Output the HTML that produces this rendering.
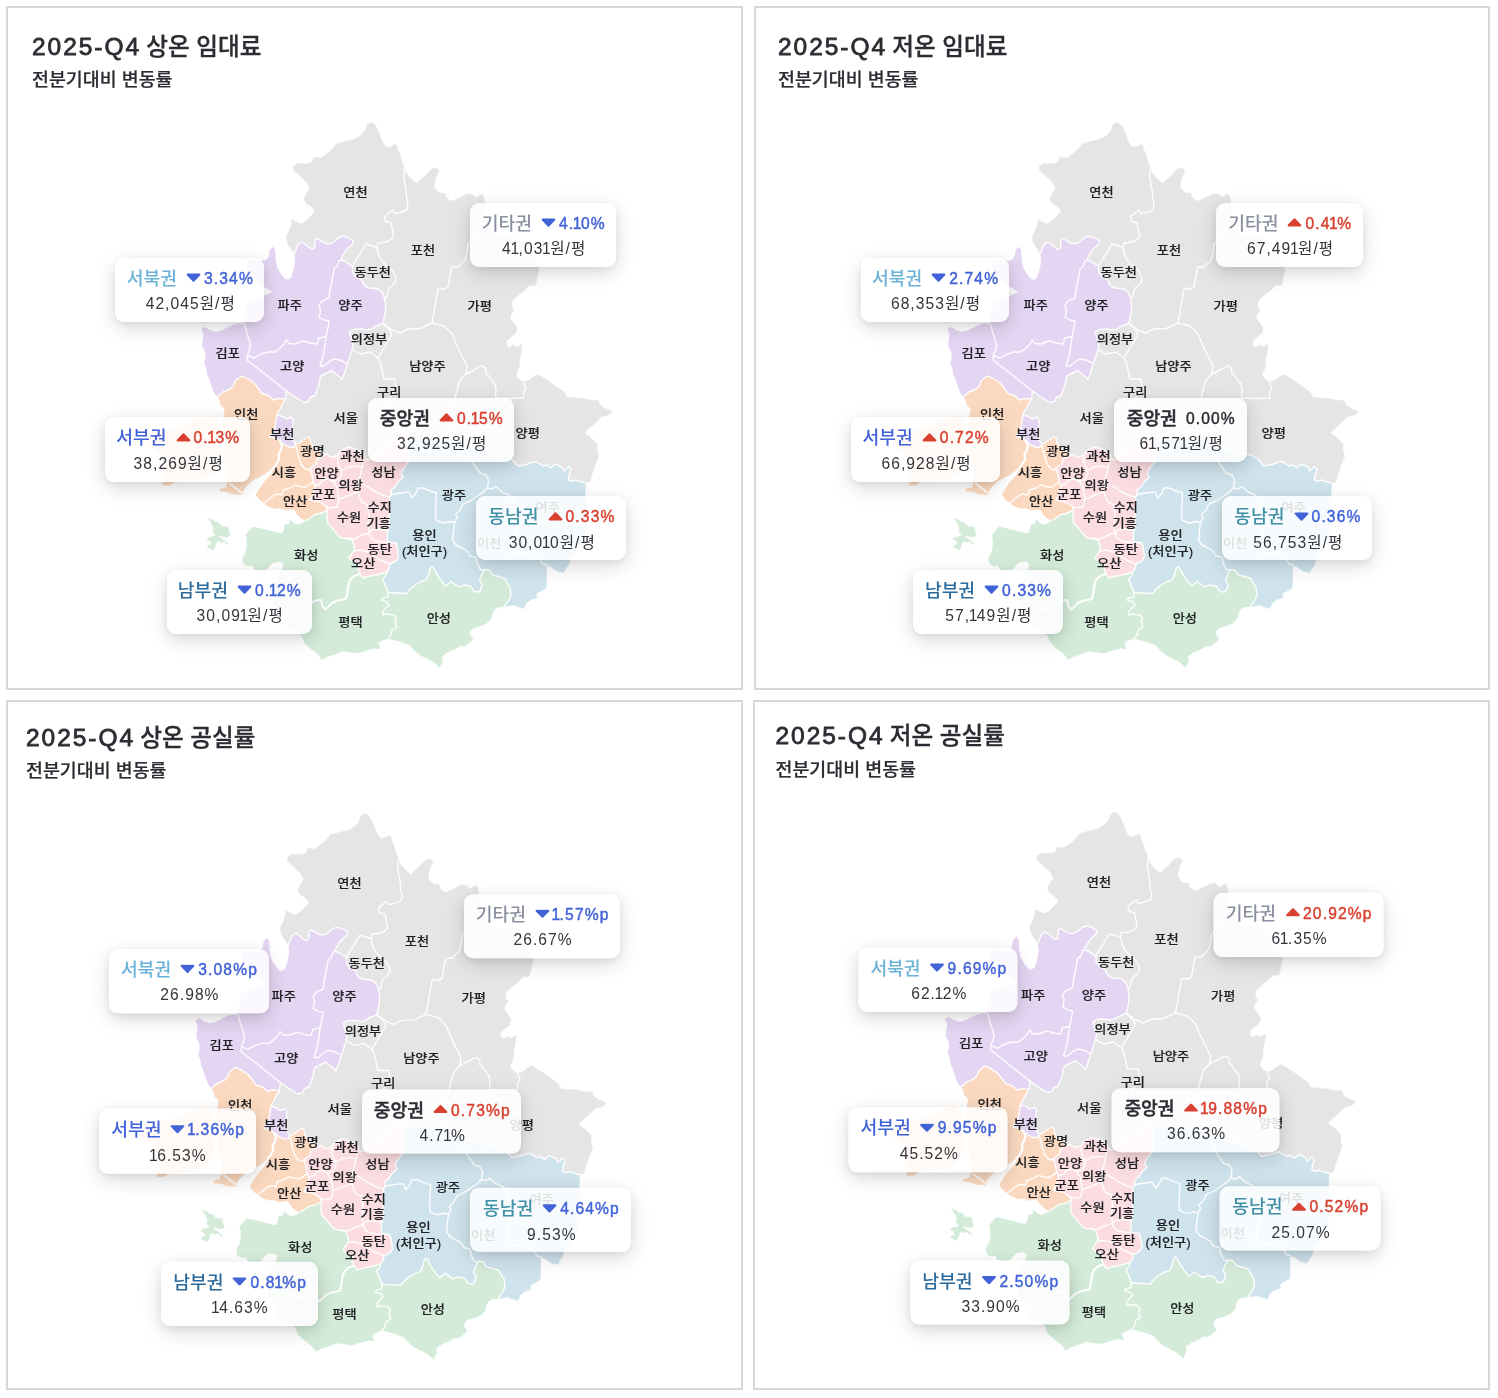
<!DOCTYPE html><html lang="ko"><head><meta charset="utf-8"><title>map</title><style>
html,body{margin:0;padding:0;background:#fff}
body{width:1498px;height:1398px;position:relative;overflow:hidden;font-family:"Liberation Sans","Noto Sans CJK KR",sans-serif;color:#2b2d33}
.frame{position:absolute;box-sizing:border-box;border:2px solid #d8d8d8;background:#fff}
.pc{position:absolute;left:0;top:0;width:0;height:0;transform-origin:0 0}
.title{position:absolute;left:32px;top:32.3px;font-size:23.6px;line-height:30px;font-weight:500;white-space:nowrap;color:#2b2d33;-webkit-text-stroke:.3px #2b2d33}
.title .en{font-size:24.5px;letter-spacing:1.95px;-webkit-text-stroke:.8px #2b2d33;margin-right:-1.2px}
.sub{position:absolute;left:32px;top:66.7px;font-size:18.4px;-webkit-text-stroke:.2px #2b2d33;line-height:26px;font-weight:500;white-space:nowrap;color:#2b2d33}
svg.map{position:absolute;left:0;top:0;overflow:visible}
.ml text{font-size:12.2px;font-weight:500;fill:#1f2024;stroke:#1f2024;stroke-width:.15px;text-anchor:middle;font-family:"Liberation Sans","Noto Sans CJK KR",sans-serif}
.ml text.dim{fill:#1f2024}
.tip{position:absolute;height:64.2px;border-radius:9px;background:rgba(255,255,255,.86);box-shadow:0 6px 20px rgba(0,0,0,.15),0 2px 6px rgba(0,0,0,.06);text-align:center;white-space:nowrap}
.tip .l1{position:absolute;left:1.6px;right:0;top:7.1px;height:28px;display:flex;justify-content:center;align-items:center}
.tip .lab{font-size:18.2px;font-weight:500;line-height:28px}
.tip .tri{margin-left:9px;margin-right:3px;position:relative;top:-1.2px}
.tip .pct{font-size:15.6px;font-weight:400;line-height:28px;letter-spacing:1.15px;-webkit-text-stroke:.45px currentColor}
.tip .l2{position:absolute;left:2.4px;right:0;top:34.4px;height:24px;line-height:24px;font-size:15.6px;color:#33353b;letter-spacing:1.05px}
.one{margin:0 -1.7px 0 -1.5px}.l2 .one{margin:0 -1.6px 0 -1.4px}
.up{color:#d9402f}.dn{color:#4263d8}.no{color:#2b2d33}
</style></head><body>
<div class="frame" style="left:6px;top:6px;width:737px;height:684px"></div>
<div class="pc" style="transform:translate(0px,0px) scale(1,1)">
<div class="title"><span class="en">2025-Q4</span> 상온 임대료</div><div class="sub">전분기대비 변동률</div>
<svg class="map" width="740" height="690" viewBox="0 0 740 690"><polygon points="294.5,253.5 292,250 288,244 286,237.5 288.5,232 291.5,225 292,219.5 296,222 301.5,224 306,221 311,216 315,211.5 313,208 306,203 304,199 306,194 310,188.5 306.5,182 300,176 293.5,170 293.5,166 298,163.5 307,164 312,162 314,157.5 321,158 328,153 334.5,147 336,144 345,141.5 355,139 360,136 365,131 367,125 370.5,122.5 374,124 377,128 379.5,134 382,141 385,146 388.5,147.5 393,145.5 396.5,144.5 397.5,149 400,155 401.5,161 404,166 406,173 411,179 417,183.5 420,180 425,176 429,171.5 432.5,168.5 437,168.5 439,170.5 436.5,176 434.5,182 434,186.5 437,191.5 441.5,193.5 444.5,193 446,197 449.5,200.5 453,201 460,197.5 467,194 472,194 476,197.5 482,194 484,198 484.5,203 485.5,210 489,226 494,234 505,237 515,238 521,242 533,255 538,265 539,270 537,278 535.5,285 529,285.5 524,291 517,296 512,301 511.5,306 514,310 510.5,315 510.5,319 514.5,324 517,328 516,333 511,337 506.5,341.5 507,346 509.5,347.5 513,345 517,347 522,344 521,352 519.5,360 519,368 516.5,373 516.5,376 520,380 523.5,382 529,380.5 533,377 537.5,374.5 542,377 550,382 558,388 564,392 567,397.5 575,398 585,399 592,400.5 598,400.5 600,405 605,408.5 612,411.2 611,413.5 607,415.5 602,416.5 598,420 593,425 588,429 585,432 585.5,434.5 590,437 594,441 597,444 597,450 598.5,457 596,463 593,471 591,477 590,481.5 585.5,483 580,481.5 576,480 572,481 568.5,480 569,475 571,469.5 568.5,466.5 564,471 562,467 555,464 551,468 547,465 543,466 536,461.5 530,463 526,464.5 523,465 518,466 515,463 512,459 505,455 490,452 475,448 460,440 440,437 420,434 409,436 404,431 399,432 398.5,439 392,443 387,447 380,450 375,456 368,460 365,459 364,454 358,450 353,448.5 349,447 344,449 340,451.5 338,455 334,457 330,456.5 326.5,454 324,455 319,452 314,448 311,443 310,438 308,436.5 303,440 299,443 296,444 293,440 292,434 292.5,427 293,420 291,417 286,419 283,416.5 277,415 277.5,413 280,409 283,403 285.5,399 286.5,391 295,397 304,402.5 309,401 310,397.5 315,395.5 317,390 319,385 320,379 321,376 327,373 332,370.5 336,374 340,377 342,379.5 344,374 346,368 348,362 350,356 352,350 353,345 351,338 349.5,332 353,329.5 360,329 367,330 371,329 376,326 382.5,323.5 383.5,321 384.5,316 385.5,310 385.5,305 384.5,298 382.5,293 379,289.5 375,288.5 369,288 365,286 363,283 361,279 356,277 352.5,272 352.5,266.5 349,264 345,261.5 341,260 342,257 345,252 348,248 352,245 353.5,240.5 347,237 343,236.2 339,237.5 335,241 331,243.5 326,243.5 321,241 317,238.5 315,240 314.5,248 312,249.5 308,247 305,244 301.5,242 298.5,244 296.5,248" fill="#e5e5e5" stroke="#e5e5e5" stroke-width="0.6" stroke-linejoin="round"/>
<polygon points="294.5,253.5 295.5,260 295,264 293.3,272 291.3,277.7 288.1,280 285,279.3 281,274.5 277,268 275.3,260 275,250.4 273,247 269.7,250.4 269,256 267.3,259.2 263.3,261.2 256,260.5 249,259.5 247.3,262 247,276 255,281 264,286.5 273,292 264,296 255,299.5 247,302.5 245.7,312 244,323 242,324 238,323.5 232,325.5 227,328 221,331 216,332 210.4,330.5 205,327.3 201.6,329 204,334 203,340 202.5,346 205.5,352 206,358 204.5,363 207,369 207,373 210,380 212.5,388 215,394 218,396.5 223,392 230,389 234,385 235,381 240,377 242.5,376 248,379 254,383 258,388 262,393.5 267,395 270,396.5 273,400 278,398.5 285.5,399 286.5,391 295,397 304,402.5 309,401 310,397.5 315,395.5 317,390 319,385 320,379 321,376 327,373 332,370.5 336,374 340,377 342,379.5 344,374 346,368 348,362 350,356 352,350 353,345 351,338 349.5,332 353,329.5 360,329 367,330 371,329 376,326 382.5,323.5 383.5,321 384.5,316 385.5,310 385.5,305 384.5,298 382.5,293 379,289.5 375,288.5 369,288 365,286 363,283 361,279 356,277 352.5,272 352.5,266.5 349,264 345,261.5 341,260 342,257 345,252 348,248 352,245 353.5,240.5 347,237 343,236.2 339,237.5 335,241 331,243.5 326,243.5 321,241 317,238.5 315,240 314.5,248 312,249.5 308,247 305,244 301.5,242 298.5,244 296.5,248" fill="#e4d5f2" stroke="#e4d5f2" stroke-width="0.6" stroke-linejoin="round"/>
<polygon points="296,444 293,440 292,434 292.5,427 293,420 291,417 286,419 283,416.5 277,415 276,420 275,428 272,432 270,437 276,438 280,441 285,445 290,447.5 294,447" fill="#e4d5f2" stroke="#e4d5f2" stroke-width="0.6" stroke-linejoin="round"/>
<polygon points="218,396.5 220,401 221,405 225,409 224,414 223,425 226,440 224,455 228,470 228,482 226,488 220,489 220,491 228,492 232,494 242,494.5 243,490.5 247,485.5 252,480.5 258,477.5 264,474.5 270,470 273.5,466 274.8,467.5 271.5,474 266.5,479.5 262,485 259,490 256,494.5 259,499 264,503 268,506 275,508.5 280,508 285,510 294,509 297,514 301,518 306,520.5 310,518 316,514 320,513.5 325,511.5 327.5,510 326,506 320,502 315,501 310,500 314,492 315,485.5 313,482 312,475 310,468 316,464 317,459 325,455 326.5,454 324,455 319,452 314,448 311,443 310,438 308,436.5 303,440 299,443 296,444 294,447 290,447.5 285,445 280,441 276,438 270,437 272,432 275,428 276,420 277,415 277.5,413 280,409 283,403 285.5,399 278,398.5 273,400 270,396.5 267,395 262,393.5 258,388 254,383 248,379 242.5,376 240,377 235,381 234,385 230,389 223,392" fill="#fad9c0" stroke="#fad9c0" stroke-width="0.6" stroke-linejoin="round"/>
<polygon points="211,417 196,420 188,426 170,430 150,435 147,445 155,450 163,458 162,470 165,478 163,485 170,485 176,481 190,480 205,478 214,472 219,462 221,450 218,440 220,428 217,420" fill="#fad9c0" stroke="#fad9c0" stroke-width="0.6" stroke-linejoin="round"/>
<polygon points="326.5,454 330,456.5 334,457 338,455 340,451.5 344,449 349,447 353,448.5 358,450 364,454 365,459 368,460 375,456 380,450 387,447 392,443 398.5,439 399,432 404,431 409,436 409,461.5 403,469 401,474 403.5,477 398,482 395,487 391,490 391.5,495 389.5,497 390,506 389,516 389.5,524 388,530 387,536 388,542 396,543 397.5,550 398.5,557 396,561 390,564 389,569 386.5,572 380,574 376,575 370,576 363,578 360,574 358,569 359,565 352,561 349,558 352,553.5 354.5,550 354,545 352,540 347,538.5 341,538 337,534 333,529 327.5,523 327,517 327.5,510 326,506 320,502 315,501 310,500 314,492 315,485.5 313,482 312,475 310,468 316,464 317,459 325,455" fill="#fbdde1" stroke="#fbdde1" stroke-width="0.6" stroke-linejoin="round"/>
<polygon points="409,436 420,434 440,437 460,440 475,448 490,452 505,455 512,459 515,463 518,466 523,465 526,464.5 530,463 536,461.5 543,466 547,465 551,468 555,464 562,467 564,471 568.5,466.5 571,469.5 569,475 568.5,480 572,481 576,480 580,481.5 585.5,483 585,495 586,505 587.5,515 586,525 584.5,535 580,545 575,552 570,559 568.5,565 565.5,569 564,572.5 558,571.5 554,569 550,566 546.5,565.5 546.5,570 546.5,580 546,588 541,591 536,593.5 537,597.5 531,599.5 526,603 524,608.5 519,607 513,605 508,606 504.5,606.5 506,604 509,600 511,595 510,587 507,583 505,578.5 498,576.5 492,574.5 489,570 484.5,569.5 482,574 479.5,580 482,584 481,589 479,592 474,591.5 471,586.5 464,585 459,587 451,581.5 445.5,586 440,579 436,573 433.5,567.5 432,566.5 430,569 429,574 426,580 420,582 415,585 410,589 407,593.5 398,593 388,592.5 386,587 384,582 382.5,579 386,576 386.5,572 389,569 390,564 396,561 398.5,557 397.5,550 396,543 388,542 387,536 388,530 389.5,524 389,516 390,506 389.5,497 391.5,495 391,490 395,487 398,482 403.5,477 401,474 403,469 409,461.5" fill="#cfe3ec" stroke="#cfe3ec" stroke-width="0.6" stroke-linejoin="round"/>
<polygon points="327.5,510 325,511.5 320,513.5 316,514 310,518 306,520.5 303,523 298,525 295,524 290,520 289,524 285,525 283,533 280,533.5 270,531 260,528.5 253,527 249,531 246,535 247,540 247,547 246,552 243.5,556 242.5,559 244,564 248,566 252,565 254,569 260,571 267,569 270,565 273,562.5 280,561.5 283.5,564 283,568 279,573 277,578 275,590 274,605 280,610 283,618 285,625 290,629 300,634 302,636 304,642 310,648 318,654 322,659.5 327,656.5 334,654.5 342,651 350,652 358,653 366,650.5 375,648 380,649 378,643 383,640 388,638.5 395,640 403,642.5 410,645 415,651 420,655 428,659 434,662 436,664 439.5,667.3 442.5,661 442,656 448,652 455,649 460,646 465,646 469,643 473,639 470,635 469.5,632 473,628 480,626 487,623 491.5,618 492,614 494,610 498,607 504.5,606.5 506,604 509,600 511,595 510,587 507,583 505,578.5 498,576.5 492,574.5 489,570 484.5,569.5 482,574 479.5,580 482,584 481,589 479,592 474,591.5 471,586.5 464,585 459,587 451,581.5 445.5,586 440,579 436,573 433.5,567.5 432,566.5 430,569 429,574 426,580 420,582 415,585 410,589 407,593.5 398,593 388,592.5 386,587 384,582 382.5,579 386,576 386.5,572 380,574 376,575 370,576 363,578 360,574 358,569 359,565 352,561 349,558 352,553.5 354.5,550 354,545 352,540 347,538.5 341,538 337,534 333,529 327.5,523 327,517" fill="#d3ebd8" stroke="#d3ebd8" stroke-width="0.6" stroke-linejoin="round"/>
<polygon points="208.1,518.1 210.9,519.5 213.2,520 214.1,521.8 218.4,522.8 220.4,524.8 222.4,526.8 228,526.9 228.8,529.1 228.3,531.1 230.1,534.3 229.3,536.3 226.3,537 223,536.3 220.4,535.5 219.1,536.3 220.4,538 223.7,539.9 226.3,541.9 227.8,544.5 226.3,544.2 224.3,541.3 222.7,541.6 221.4,542.9 219.4,541.3 217.4,541.3 216.1,542.9 215.1,546.2 213.8,548.5 212.5,550.1 210.5,548.5 207.2,547.5 208.2,545.2 210.9,544.9 211.2,542.2 209.5,540.3 207.1,539.6 207.4,538.1 209.9,537.3 214.5,536.3 215.5,535 213.8,533 212.8,531.1 213.7,528.4 212.2,524.8 210.2,520.9" fill="#d3ebd8" stroke="#d3ebd8" stroke-width="0.6" stroke-linejoin="round"/>
<g fill="none" stroke="#fff" stroke-width="1.4" stroke-linejoin="round" stroke-linecap="round" opacity="0.95">
<polyline points="585.5,483 580,481.5 576,480 572,481 568.5,480 569,475 571,469.5 568.5,466.5 564,471 562,467 555,464 551,468 547,465 543,466 536,461.5 530,463 526,464.5 523,465 518,466 515,463 512,459 505,455 490,452 475,448 460,440 440,437 420,434 409,436"/>
<polyline points="409,436 404,431 399,432 398.5,439 392,443 387,447 380,450 375,456 368,460 365,459 364,454 358,450 353,448.5 349,447 344,449 340,451.5 338,455 334,457 330,456.5 326.5,454"/>
<polyline points="326.5,454 324,455 319,452 314,448 311,443 310,438 308,436.5 303,440 299,443 296,444"/>
<polyline points="296,444 293,440 292,434 292.5,427 293,420 291,417 286,419 283,416.5 277,415"/>
<polyline points="296,444 294,447 290,447.5 285,445 280,441 276,438 270,437 272,432 275,428 276,420 277,415"/>
<polyline points="277,415 277.5,413 280,409 283,403 285.5,399"/>
<polyline points="285.5,399 286.5,391 295,397 304,402.5 309,401 310,397.5 315,395.5 317,390 319,385 320,379 321,376 327,373 332,370.5 336,374 340,377 342,379.5 344,374 346,368 348,362 350,356 352,350 353,345 351,338 349.5,332 353,329.5 360,329 367,330 371,329 376,326 382.5,323.5 383.5,321 384.5,316 385.5,310 385.5,305 384.5,298 382.5,293 379,289.5 375,288.5 369,288 365,286 363,283 361,279 356,277 352.5,272 352.5,266.5 349,264 345,261.5 341,260 342,257 345,252 348,248 352,245 353.5,240.5 347,237 343,236.2 339,237.5 335,241 331,243.5 326,243.5 321,241 317,238.5 315,240 314.5,248 312,249.5 308,247 305,244 301.5,242 298.5,244 296.5,248 294.5,253.5"/>
<polyline points="218,396.5 223,392 230,389 234,385 235,381 240,377 242.5,376 248,379 254,383 258,388 262,393.5 267,395 270,396.5 273,400 278,398.5 285.5,399"/>
<polyline points="327.5,510 326,506 320,502 315,501 310,500 314,492 315,485.5 313,482 312,475 310,468 316,464 317,459 325,455 326.5,454"/>
<polyline points="409,436 409,461.5 403,469 401,474 403.5,477 398,482 395,487 391,490 391.5,495 389.5,497 390,506 389,516 389.5,524 388,530 387,536 388,542 396,543 397.5,550 398.5,557 396,561 390,564 389,569 386.5,572"/>
<polyline points="386.5,572 380,574 376,575 370,576 363,578 360,574 358,569 359,565 352,561 349,558 352,553.5 354.5,550 354,545 352,540 347,538.5 341,538 337,534 333,529 327.5,523 327,517 327.5,510"/>
<polyline points="504.5,606.5 506,604 509,600 511,595 510,587 507,583 505,578.5 498,576.5 492,574.5 489,570 484.5,569.5 482,574 479.5,580 482,584 481,589 479,592 474,591.5 471,586.5 464,585 459,587 451,581.5 445.5,586 440,579 436,573 433.5,567.5 432,566.5 430,569 429,574 426,580 420,582 415,585 410,589 407,593.5 398,593 388,592.5"/>
<polyline points="388,592.5 386,587 384,582 382.5,579 386,576 386.5,572"/>
<polyline points="327.5,510 325,511.5 320,513.5 316,514 310,518 306,520.5"/>
<polyline points="404.6,166.5 403.8,178 406,190 407,200 408,205 407,210 400,212.5 394.5,213.5 393,210 389,213 384.5,216.5 385.5,221.5 391,223 392.5,230 393.5,237 389,241 383,242.5 378,243"/>
<polyline points="352.5,266.5 356,260 360,254 364,247 366,244 370,245 377,247.5 378,243"/>
<polyline points="377,247.5 378.5,254 381,260 386,265 392,270 395.5,276 396,281 393,285 389,288 387.5,292 387,297 384.5,298"/>
<polyline points="341,260 339,261 337.5,266 334,269 333,275 331.5,283 330,290 329,298 324,300 321,302 319,306 320.5,310 320,314 319,317 324,320 329,321 328,328 326.5,334 326,336.5"/>
<polyline points="247.5,355.5 254,358 260,354.5 268,352 275,352 280,348 284,344 286,340 289,343.5 295,344 300,342 304,341 310,343 317,344 319,338 326,336.5"/>
<polyline points="326,336.5 325,344 324,352 322,360 320,366 324,366 330,361 334,359 340,360 346,363"/>
<polyline points="244,323 246.5,332 249.7,341.8 250.5,346 249.5,350 247.5,355 247,360 260,370 270,378 280,386 286.5,391"/>
<polyline points="353,350 360,354 370,352 378,358 384,348 392,334 388,328 382.5,323.5"/>
<polyline points="384,324 392,330 400,333 408,329 420,328.5 430,324 432,323"/>
<polyline points="432,323 434,312 436,300 438,289 440,288 444,289.5 448,287 450,275 452,267 458,267 465,260 467,252 468,244 473,239 478,231 480.5,224 483,217 485.5,210"/>
<polyline points="432,323 444,326 452,334 457,346 462,356 467,366 466,374"/>
<polyline points="466,374 474,370 480,366.5 482.5,366 486,369 485.5,373 489,376 492,381 495,384 496,390 495.5,398 510,398.5 523.5,398 523.5,392 526,388 523.5,382"/>
<polyline points="466,374 460,380 457,390 455,398 452,410 450,425 452,437"/>
<polyline points="378,358 380,362 382,370 384,379 395,379 396,388 392,396 386,400"/>
<polyline points="386,400 392,410 400,420 404,431"/>
<polyline points="391,494.5 400,493 409,492 412,498 416,493 418,488 423,488 430,491 436.5,493 436,504 435.5,514 436,520 440,522 444,523 450,521.5 454.5,522.5"/>
<polyline points="454.5,522.5 457,518 455.5,514.5 460,510 463,504 470,501 476,497 482,493 487.5,488 488.5,480 486,475 480,473 476,467 473,463 470,456 466,450 460,440"/>
<polyline points="487.5,488 492,489 496,486.5 502,492 509,495 514,500 515,510 517,525 514,540 512,555 530,553 540,559 543,564 547,565"/>
<polyline points="454.5,522.5 453.5,530 452.5,540 456,545 462,548 467,551 470,556 476,557 477,563 480,569 483,570.5"/>
<polyline points="360,574 354,576 350,580 348.5,585 347.5,592 346,599 338,600.5 332,603 328,607 325,609.5 322.5,606 321,600 316,600.5 312,602.5 305,606 296,610 285,618"/>
<polyline points="388,638.5 391,635 392,630 397,627 395,622 396.5,618 394,615 386,614 383,615 383,611 389,605 387,602 381,600 383,598 387.5,597 388,592.5"/>
<polyline points="338,455 337.5,461 340,468 343,470 348,467 356,466 362,467 364,460"/>
<polyline points="362,467 361,473 359,479 363,484 370,488 374,491 380,494 385,496 389.5,497"/>
<polyline points="340,468 342,473 340,478 338,480 333,481 328,479 323,480 320,484 315,485.5"/>
<polyline points="333,481 337,487 338,494 339,499 337,507 329,508 326,506"/>
<polyline points="339,499 345,497 352,494 358,492 360,498 362,502 368,505 369,515 368,525 369,533"/>
<polyline points="358,492 359,485 359,479"/>
<polyline points="347,538.5 354,539 360,536 365,534 369,533 372,530 377,529 384,530 388,530"/>
<polyline points="369,533 371,538 376,541 382,542 388,542"/>
<polyline points="354,551 360,550 368,552 374,556 380,560 390,564"/>
<polyline points="280,441 282,446 280.5,451 278.5,454 279,459 277,463 274.2,466.8"/>
<polyline points="296,446 297.5,452 299,458 301,464 305,469 310,470"/>
<polyline points="264,503 270,498 276,494 282,495 283.5,490 290,488 295,485 300,486.5 305,487.5 309,485 313,482.5"/>
</g>
<line x1="229" y1="483" x2="242" y2="493" stroke="#fff" stroke-width="1.6"/>
<polyline points="280,441 282,446 280.5,451 278.5,454 279,459 277,463 274.2,466.8" fill="none" stroke="#fff" stroke-width="2.2" stroke-linejoin="round" stroke-linecap="round"/>
<polyline points="360,574 354,576 350,580 348.5,585 347.5,592 346,599 338,600.5 332,603 328,607 325,609.5 322.5,606 321,600 316,600.5 312,602.5 305,606 296,610 285,618" fill="none" stroke="#fff" stroke-width="2" stroke-linejoin="round" opacity=".9"/>
<g class="ml">
<text transform="translate(355.5,197.1) scale(1.083,1)">연천</text>
<text transform="translate(423,254.6) scale(1.083,1)">포천</text>
<text transform="translate(372.75,276.85) scale(1.083,1)">동두천</text>
<text transform="translate(289.75,309.6) scale(1.083,1)">파주</text>
<text transform="translate(350.5,309.6) scale(1.083,1)">양주</text>
<text transform="translate(479.75,311.45) scale(1.083,1)">가평</text>
<text transform="translate(368.95,344.35) scale(1.083,1)">의정부</text>
<text transform="translate(227.75,358.35) scale(1.083,1)">김포</text>
<text transform="translate(292.25,371.1) scale(1.083,1)">고양</text>
<text transform="translate(427.35,371.3) scale(1.083,1)">남양주</text>
<text transform="translate(389.2,396.7) scale(1.083,1)">구리</text>
<text transform="translate(246.25,418.85) scale(1.083,1)">인천</text>
<text transform="translate(345.65,422.75) scale(1.083,1)">서울</text>
<text transform="translate(282.25,438.85) scale(1.083,1)">부천</text>
<text transform="translate(527.65,438.25) scale(1.083,1)">양평</text>
<text transform="translate(312.4,455.85) scale(1.083,1)">광명</text>
<text transform="translate(352.5,460.85) scale(1.083,1)">과천</text>
<text transform="translate(284,477.1) scale(1.083,1)">시흥</text>
<text transform="translate(326.4,477.7) scale(1.083,1)">안양</text>
<text transform="translate(383.5,477.35) scale(1.083,1)">성남</text>
<text transform="translate(350.75,490.35) scale(1.083,1)">의왕</text>
<text transform="translate(323.25,499.2) scale(1.083,1)">군포</text>
<text transform="translate(295.25,506.35) scale(1.083,1)">안산</text>
<text transform="translate(454,499.85) scale(1.083,1)">광주</text>
<text transform="translate(349,522.1) scale(1.083,1)">수원</text>
<text transform="translate(379.75,512.35) scale(1.083,1)">수지</text>
<text transform="translate(378.75,527.6) scale(1.083,1)">기흥</text>
<text transform="translate(547.75,512.35) scale(1.083,1)" class="dim">여주</text>
<text transform="translate(489.25,548) scale(1.083,1)" class="dim">이천</text>
<text transform="translate(424.4,539.85) scale(1.083,1)">용인</text>
<text transform="translate(424.5,556.1) scale(1.083,1)">(처인구)</text>
<text transform="translate(306.25,559.85) scale(1.083,1)">화성</text>
<text transform="translate(379.75,554.2) scale(1.083,1)">동탄</text>
<text transform="translate(363.25,568.2) scale(1.083,1)">오산</text>
<text transform="translate(350.5,626.6) scale(1.083,1)">평택</text>
<text transform="translate(438.85,622.5) scale(1.083,1)">안성</text>
</g></svg>
<div class="tip" style="left:470px;top:203px;width:146px"><div class="l1"><span class="lab" style="color:#8b90a0">기타권</span><svg class="tri" width="15" height="9" viewBox="0 0 15 9"><path d="M1.6 0.6h11.8a1 1 0 0 1 .75 1.65l-5.7 5.9a1.3 1.3 0 0 1-1.9 0l-5.7-5.9A1 1 0 0 1 1.6 .6z" fill="#4263d8"/></svg><span class="pct dn">4.<span class="one">1</span>0%</span></div><div class="l2">4<span class="one">1</span>,03<span class="one">1</span>원/평</div></div>
<div class="tip" style="left:114.8px;top:257.5px;width:149.5px"><div class="l1"><span class="lab" style="color:#6cb2d8">서북권</span><svg class="tri" width="15" height="9" viewBox="0 0 15 9"><path d="M1.6 0.6h11.8a1 1 0 0 1 .75 1.65l-5.7 5.9a1.3 1.3 0 0 1-1.9 0l-5.7-5.9A1 1 0 0 1 1.6 .6z" fill="#4263d8"/></svg><span class="pct dn">3.34%</span></div><div class="l2">42,045원/평</div></div>
<div class="tip" style="left:368px;top:398px;width:146px"><div class="l1"><span class="lab" style="color:#2b2d33;-webkit-text-stroke:.45px #2b2d33">중앙권</span><svg class="tri" width="15" height="9" viewBox="0 0 15 9"><path d="M1.6 8.4h11.8a1 1 0 0 0 .75-1.65l-5.7-5.9a1.3 1.3 0 0 0-1.9 0l-5.7 5.9A1 1 0 0 0 1.6 8.4z" fill="#d9402f"/></svg><span class="pct up">0.<span class="one">1</span>5%</span></div><div class="l2">32,925원/평</div></div>
<div class="tip" style="left:105px;top:417.4px;width:145px"><div class="l1"><span class="lab" style="color:#4263d8">서부권</span><svg class="tri" width="15" height="9" viewBox="0 0 15 9"><path d="M1.6 8.4h11.8a1 1 0 0 0 .75-1.65l-5.7-5.9a1.3 1.3 0 0 0-1.9 0l-5.7 5.9A1 1 0 0 0 1.6 8.4z" fill="#d9402f"/></svg><span class="pct up">0.<span class="one">1</span>3%</span></div><div class="l2">38,269원/평</div></div>
<div class="tip" style="left:476px;top:496.2px;width:150.2px"><div class="l1"><span class="lab" style="color:#3f90a6">동남권</span><svg class="tri" width="15" height="9" viewBox="0 0 15 9"><path d="M1.6 8.4h11.8a1 1 0 0 0 .75-1.65l-5.7-5.9a1.3 1.3 0 0 0-1.9 0l-5.7 5.9A1 1 0 0 0 1.6 8.4z" fill="#d9402f"/></svg><span class="pct up">0.33%</span></div><div class="l2">30,0<span class="one">1</span>0원/평</div></div>
<div class="tip" style="left:166.5px;top:570px;width:145px"><div class="l1"><span class="lab" style="color:#2a6a9c">남부권</span><svg class="tri" width="15" height="9" viewBox="0 0 15 9"><path d="M1.6 0.6h11.8a1 1 0 0 1 .75 1.65l-5.7 5.9a1.3 1.3 0 0 1-1.9 0l-5.7-5.9A1 1 0 0 1 1.6 .6z" fill="#4263d8"/></svg><span class="pct dn">0.<span class="one">1</span>2%</span></div><div class="l2">30,09<span class="one">1</span>원/평</div></div>
</div>
<div class="frame" style="left:754px;top:6px;width:736px;height:684px"></div>
<div class="pc" style="transform:translate(746px,0px) scale(1,1)">
<div class="title"><span class="en">2025-Q4</span> 저온 임대료</div><div class="sub">전분기대비 변동률</div>
<svg class="map" width="740" height="690" viewBox="0 0 740 690"><polygon points="294.5,253.5 292,250 288,244 286,237.5 288.5,232 291.5,225 292,219.5 296,222 301.5,224 306,221 311,216 315,211.5 313,208 306,203 304,199 306,194 310,188.5 306.5,182 300,176 293.5,170 293.5,166 298,163.5 307,164 312,162 314,157.5 321,158 328,153 334.5,147 336,144 345,141.5 355,139 360,136 365,131 367,125 370.5,122.5 374,124 377,128 379.5,134 382,141 385,146 388.5,147.5 393,145.5 396.5,144.5 397.5,149 400,155 401.5,161 404,166 406,173 411,179 417,183.5 420,180 425,176 429,171.5 432.5,168.5 437,168.5 439,170.5 436.5,176 434.5,182 434,186.5 437,191.5 441.5,193.5 444.5,193 446,197 449.5,200.5 453,201 460,197.5 467,194 472,194 476,197.5 482,194 484,198 484.5,203 485.5,210 489,226 494,234 505,237 515,238 521,242 533,255 538,265 539,270 537,278 535.5,285 529,285.5 524,291 517,296 512,301 511.5,306 514,310 510.5,315 510.5,319 514.5,324 517,328 516,333 511,337 506.5,341.5 507,346 509.5,347.5 513,345 517,347 522,344 521,352 519.5,360 519,368 516.5,373 516.5,376 520,380 523.5,382 529,380.5 533,377 537.5,374.5 542,377 550,382 558,388 564,392 567,397.5 575,398 585,399 592,400.5 598,400.5 600,405 605,408.5 612,411.2 611,413.5 607,415.5 602,416.5 598,420 593,425 588,429 585,432 585.5,434.5 590,437 594,441 597,444 597,450 598.5,457 596,463 593,471 591,477 590,481.5 585.5,483 580,481.5 576,480 572,481 568.5,480 569,475 571,469.5 568.5,466.5 564,471 562,467 555,464 551,468 547,465 543,466 536,461.5 530,463 526,464.5 523,465 518,466 515,463 512,459 505,455 490,452 475,448 460,440 440,437 420,434 409,436 404,431 399,432 398.5,439 392,443 387,447 380,450 375,456 368,460 365,459 364,454 358,450 353,448.5 349,447 344,449 340,451.5 338,455 334,457 330,456.5 326.5,454 324,455 319,452 314,448 311,443 310,438 308,436.5 303,440 299,443 296,444 293,440 292,434 292.5,427 293,420 291,417 286,419 283,416.5 277,415 277.5,413 280,409 283,403 285.5,399 286.5,391 295,397 304,402.5 309,401 310,397.5 315,395.5 317,390 319,385 320,379 321,376 327,373 332,370.5 336,374 340,377 342,379.5 344,374 346,368 348,362 350,356 352,350 353,345 351,338 349.5,332 353,329.5 360,329 367,330 371,329 376,326 382.5,323.5 383.5,321 384.5,316 385.5,310 385.5,305 384.5,298 382.5,293 379,289.5 375,288.5 369,288 365,286 363,283 361,279 356,277 352.5,272 352.5,266.5 349,264 345,261.5 341,260 342,257 345,252 348,248 352,245 353.5,240.5 347,237 343,236.2 339,237.5 335,241 331,243.5 326,243.5 321,241 317,238.5 315,240 314.5,248 312,249.5 308,247 305,244 301.5,242 298.5,244 296.5,248" fill="#e5e5e5" stroke="#e5e5e5" stroke-width="0.6" stroke-linejoin="round"/>
<polygon points="294.5,253.5 295.5,260 295,264 293.3,272 291.3,277.7 288.1,280 285,279.3 281,274.5 277,268 275.3,260 275,250.4 273,247 269.7,250.4 269,256 267.3,259.2 263.3,261.2 256,260.5 249,259.5 247.3,262 247,276 255,281 264,286.5 273,292 264,296 255,299.5 247,302.5 245.7,312 244,323 242,324 238,323.5 232,325.5 227,328 221,331 216,332 210.4,330.5 205,327.3 201.6,329 204,334 203,340 202.5,346 205.5,352 206,358 204.5,363 207,369 207,373 210,380 212.5,388 215,394 218,396.5 223,392 230,389 234,385 235,381 240,377 242.5,376 248,379 254,383 258,388 262,393.5 267,395 270,396.5 273,400 278,398.5 285.5,399 286.5,391 295,397 304,402.5 309,401 310,397.5 315,395.5 317,390 319,385 320,379 321,376 327,373 332,370.5 336,374 340,377 342,379.5 344,374 346,368 348,362 350,356 352,350 353,345 351,338 349.5,332 353,329.5 360,329 367,330 371,329 376,326 382.5,323.5 383.5,321 384.5,316 385.5,310 385.5,305 384.5,298 382.5,293 379,289.5 375,288.5 369,288 365,286 363,283 361,279 356,277 352.5,272 352.5,266.5 349,264 345,261.5 341,260 342,257 345,252 348,248 352,245 353.5,240.5 347,237 343,236.2 339,237.5 335,241 331,243.5 326,243.5 321,241 317,238.5 315,240 314.5,248 312,249.5 308,247 305,244 301.5,242 298.5,244 296.5,248" fill="#e4d5f2" stroke="#e4d5f2" stroke-width="0.6" stroke-linejoin="round"/>
<polygon points="296,444 293,440 292,434 292.5,427 293,420 291,417 286,419 283,416.5 277,415 276,420 275,428 272,432 270,437 276,438 280,441 285,445 290,447.5 294,447" fill="#e4d5f2" stroke="#e4d5f2" stroke-width="0.6" stroke-linejoin="round"/>
<polygon points="218,396.5 220,401 221,405 225,409 224,414 223,425 226,440 224,455 228,470 228,482 226,488 220,489 220,491 228,492 232,494 242,494.5 243,490.5 247,485.5 252,480.5 258,477.5 264,474.5 270,470 273.5,466 274.8,467.5 271.5,474 266.5,479.5 262,485 259,490 256,494.5 259,499 264,503 268,506 275,508.5 280,508 285,510 294,509 297,514 301,518 306,520.5 310,518 316,514 320,513.5 325,511.5 327.5,510 326,506 320,502 315,501 310,500 314,492 315,485.5 313,482 312,475 310,468 316,464 317,459 325,455 326.5,454 324,455 319,452 314,448 311,443 310,438 308,436.5 303,440 299,443 296,444 294,447 290,447.5 285,445 280,441 276,438 270,437 272,432 275,428 276,420 277,415 277.5,413 280,409 283,403 285.5,399 278,398.5 273,400 270,396.5 267,395 262,393.5 258,388 254,383 248,379 242.5,376 240,377 235,381 234,385 230,389 223,392" fill="#fad9c0" stroke="#fad9c0" stroke-width="0.6" stroke-linejoin="round"/>
<polygon points="211,417 196,420 188,426 170,430 150,435 147,445 155,450 163,458 162,470 165,478 163,485 170,485 176,481 190,480 205,478 214,472 219,462 221,450 218,440 220,428 217,420" fill="#fad9c0" stroke="#fad9c0" stroke-width="0.6" stroke-linejoin="round"/>
<polygon points="326.5,454 330,456.5 334,457 338,455 340,451.5 344,449 349,447 353,448.5 358,450 364,454 365,459 368,460 375,456 380,450 387,447 392,443 398.5,439 399,432 404,431 409,436 409,461.5 403,469 401,474 403.5,477 398,482 395,487 391,490 391.5,495 389.5,497 390,506 389,516 389.5,524 388,530 387,536 388,542 396,543 397.5,550 398.5,557 396,561 390,564 389,569 386.5,572 380,574 376,575 370,576 363,578 360,574 358,569 359,565 352,561 349,558 352,553.5 354.5,550 354,545 352,540 347,538.5 341,538 337,534 333,529 327.5,523 327,517 327.5,510 326,506 320,502 315,501 310,500 314,492 315,485.5 313,482 312,475 310,468 316,464 317,459 325,455" fill="#fbdde1" stroke="#fbdde1" stroke-width="0.6" stroke-linejoin="round"/>
<polygon points="409,436 420,434 440,437 460,440 475,448 490,452 505,455 512,459 515,463 518,466 523,465 526,464.5 530,463 536,461.5 543,466 547,465 551,468 555,464 562,467 564,471 568.5,466.5 571,469.5 569,475 568.5,480 572,481 576,480 580,481.5 585.5,483 585,495 586,505 587.5,515 586,525 584.5,535 580,545 575,552 570,559 568.5,565 565.5,569 564,572.5 558,571.5 554,569 550,566 546.5,565.5 546.5,570 546.5,580 546,588 541,591 536,593.5 537,597.5 531,599.5 526,603 524,608.5 519,607 513,605 508,606 504.5,606.5 506,604 509,600 511,595 510,587 507,583 505,578.5 498,576.5 492,574.5 489,570 484.5,569.5 482,574 479.5,580 482,584 481,589 479,592 474,591.5 471,586.5 464,585 459,587 451,581.5 445.5,586 440,579 436,573 433.5,567.5 432,566.5 430,569 429,574 426,580 420,582 415,585 410,589 407,593.5 398,593 388,592.5 386,587 384,582 382.5,579 386,576 386.5,572 389,569 390,564 396,561 398.5,557 397.5,550 396,543 388,542 387,536 388,530 389.5,524 389,516 390,506 389.5,497 391.5,495 391,490 395,487 398,482 403.5,477 401,474 403,469 409,461.5" fill="#cfe3ec" stroke="#cfe3ec" stroke-width="0.6" stroke-linejoin="round"/>
<polygon points="327.5,510 325,511.5 320,513.5 316,514 310,518 306,520.5 303,523 298,525 295,524 290,520 289,524 285,525 283,533 280,533.5 270,531 260,528.5 253,527 249,531 246,535 247,540 247,547 246,552 243.5,556 242.5,559 244,564 248,566 252,565 254,569 260,571 267,569 270,565 273,562.5 280,561.5 283.5,564 283,568 279,573 277,578 275,590 274,605 280,610 283,618 285,625 290,629 300,634 302,636 304,642 310,648 318,654 322,659.5 327,656.5 334,654.5 342,651 350,652 358,653 366,650.5 375,648 380,649 378,643 383,640 388,638.5 395,640 403,642.5 410,645 415,651 420,655 428,659 434,662 436,664 439.5,667.3 442.5,661 442,656 448,652 455,649 460,646 465,646 469,643 473,639 470,635 469.5,632 473,628 480,626 487,623 491.5,618 492,614 494,610 498,607 504.5,606.5 506,604 509,600 511,595 510,587 507,583 505,578.5 498,576.5 492,574.5 489,570 484.5,569.5 482,574 479.5,580 482,584 481,589 479,592 474,591.5 471,586.5 464,585 459,587 451,581.5 445.5,586 440,579 436,573 433.5,567.5 432,566.5 430,569 429,574 426,580 420,582 415,585 410,589 407,593.5 398,593 388,592.5 386,587 384,582 382.5,579 386,576 386.5,572 380,574 376,575 370,576 363,578 360,574 358,569 359,565 352,561 349,558 352,553.5 354.5,550 354,545 352,540 347,538.5 341,538 337,534 333,529 327.5,523 327,517" fill="#d3ebd8" stroke="#d3ebd8" stroke-width="0.6" stroke-linejoin="round"/>
<polygon points="208.1,518.1 210.9,519.5 213.2,520 214.1,521.8 218.4,522.8 220.4,524.8 222.4,526.8 228,526.9 228.8,529.1 228.3,531.1 230.1,534.3 229.3,536.3 226.3,537 223,536.3 220.4,535.5 219.1,536.3 220.4,538 223.7,539.9 226.3,541.9 227.8,544.5 226.3,544.2 224.3,541.3 222.7,541.6 221.4,542.9 219.4,541.3 217.4,541.3 216.1,542.9 215.1,546.2 213.8,548.5 212.5,550.1 210.5,548.5 207.2,547.5 208.2,545.2 210.9,544.9 211.2,542.2 209.5,540.3 207.1,539.6 207.4,538.1 209.9,537.3 214.5,536.3 215.5,535 213.8,533 212.8,531.1 213.7,528.4 212.2,524.8 210.2,520.9" fill="#d3ebd8" stroke="#d3ebd8" stroke-width="0.6" stroke-linejoin="round"/>
<g fill="none" stroke="#fff" stroke-width="1.4" stroke-linejoin="round" stroke-linecap="round" opacity="0.95">
<polyline points="585.5,483 580,481.5 576,480 572,481 568.5,480 569,475 571,469.5 568.5,466.5 564,471 562,467 555,464 551,468 547,465 543,466 536,461.5 530,463 526,464.5 523,465 518,466 515,463 512,459 505,455 490,452 475,448 460,440 440,437 420,434 409,436"/>
<polyline points="409,436 404,431 399,432 398.5,439 392,443 387,447 380,450 375,456 368,460 365,459 364,454 358,450 353,448.5 349,447 344,449 340,451.5 338,455 334,457 330,456.5 326.5,454"/>
<polyline points="326.5,454 324,455 319,452 314,448 311,443 310,438 308,436.5 303,440 299,443 296,444"/>
<polyline points="296,444 293,440 292,434 292.5,427 293,420 291,417 286,419 283,416.5 277,415"/>
<polyline points="296,444 294,447 290,447.5 285,445 280,441 276,438 270,437 272,432 275,428 276,420 277,415"/>
<polyline points="277,415 277.5,413 280,409 283,403 285.5,399"/>
<polyline points="285.5,399 286.5,391 295,397 304,402.5 309,401 310,397.5 315,395.5 317,390 319,385 320,379 321,376 327,373 332,370.5 336,374 340,377 342,379.5 344,374 346,368 348,362 350,356 352,350 353,345 351,338 349.5,332 353,329.5 360,329 367,330 371,329 376,326 382.5,323.5 383.5,321 384.5,316 385.5,310 385.5,305 384.5,298 382.5,293 379,289.5 375,288.5 369,288 365,286 363,283 361,279 356,277 352.5,272 352.5,266.5 349,264 345,261.5 341,260 342,257 345,252 348,248 352,245 353.5,240.5 347,237 343,236.2 339,237.5 335,241 331,243.5 326,243.5 321,241 317,238.5 315,240 314.5,248 312,249.5 308,247 305,244 301.5,242 298.5,244 296.5,248 294.5,253.5"/>
<polyline points="218,396.5 223,392 230,389 234,385 235,381 240,377 242.5,376 248,379 254,383 258,388 262,393.5 267,395 270,396.5 273,400 278,398.5 285.5,399"/>
<polyline points="327.5,510 326,506 320,502 315,501 310,500 314,492 315,485.5 313,482 312,475 310,468 316,464 317,459 325,455 326.5,454"/>
<polyline points="409,436 409,461.5 403,469 401,474 403.5,477 398,482 395,487 391,490 391.5,495 389.5,497 390,506 389,516 389.5,524 388,530 387,536 388,542 396,543 397.5,550 398.5,557 396,561 390,564 389,569 386.5,572"/>
<polyline points="386.5,572 380,574 376,575 370,576 363,578 360,574 358,569 359,565 352,561 349,558 352,553.5 354.5,550 354,545 352,540 347,538.5 341,538 337,534 333,529 327.5,523 327,517 327.5,510"/>
<polyline points="504.5,606.5 506,604 509,600 511,595 510,587 507,583 505,578.5 498,576.5 492,574.5 489,570 484.5,569.5 482,574 479.5,580 482,584 481,589 479,592 474,591.5 471,586.5 464,585 459,587 451,581.5 445.5,586 440,579 436,573 433.5,567.5 432,566.5 430,569 429,574 426,580 420,582 415,585 410,589 407,593.5 398,593 388,592.5"/>
<polyline points="388,592.5 386,587 384,582 382.5,579 386,576 386.5,572"/>
<polyline points="327.5,510 325,511.5 320,513.5 316,514 310,518 306,520.5"/>
<polyline points="404.6,166.5 403.8,178 406,190 407,200 408,205 407,210 400,212.5 394.5,213.5 393,210 389,213 384.5,216.5 385.5,221.5 391,223 392.5,230 393.5,237 389,241 383,242.5 378,243"/>
<polyline points="352.5,266.5 356,260 360,254 364,247 366,244 370,245 377,247.5 378,243"/>
<polyline points="377,247.5 378.5,254 381,260 386,265 392,270 395.5,276 396,281 393,285 389,288 387.5,292 387,297 384.5,298"/>
<polyline points="341,260 339,261 337.5,266 334,269 333,275 331.5,283 330,290 329,298 324,300 321,302 319,306 320.5,310 320,314 319,317 324,320 329,321 328,328 326.5,334 326,336.5"/>
<polyline points="247.5,355.5 254,358 260,354.5 268,352 275,352 280,348 284,344 286,340 289,343.5 295,344 300,342 304,341 310,343 317,344 319,338 326,336.5"/>
<polyline points="326,336.5 325,344 324,352 322,360 320,366 324,366 330,361 334,359 340,360 346,363"/>
<polyline points="244,323 246.5,332 249.7,341.8 250.5,346 249.5,350 247.5,355 247,360 260,370 270,378 280,386 286.5,391"/>
<polyline points="353,350 360,354 370,352 378,358 384,348 392,334 388,328 382.5,323.5"/>
<polyline points="384,324 392,330 400,333 408,329 420,328.5 430,324 432,323"/>
<polyline points="432,323 434,312 436,300 438,289 440,288 444,289.5 448,287 450,275 452,267 458,267 465,260 467,252 468,244 473,239 478,231 480.5,224 483,217 485.5,210"/>
<polyline points="432,323 444,326 452,334 457,346 462,356 467,366 466,374"/>
<polyline points="466,374 474,370 480,366.5 482.5,366 486,369 485.5,373 489,376 492,381 495,384 496,390 495.5,398 510,398.5 523.5,398 523.5,392 526,388 523.5,382"/>
<polyline points="466,374 460,380 457,390 455,398 452,410 450,425 452,437"/>
<polyline points="378,358 380,362 382,370 384,379 395,379 396,388 392,396 386,400"/>
<polyline points="386,400 392,410 400,420 404,431"/>
<polyline points="391,494.5 400,493 409,492 412,498 416,493 418,488 423,488 430,491 436.5,493 436,504 435.5,514 436,520 440,522 444,523 450,521.5 454.5,522.5"/>
<polyline points="454.5,522.5 457,518 455.5,514.5 460,510 463,504 470,501 476,497 482,493 487.5,488 488.5,480 486,475 480,473 476,467 473,463 470,456 466,450 460,440"/>
<polyline points="487.5,488 492,489 496,486.5 502,492 509,495 514,500 515,510 517,525 514,540 512,555 530,553 540,559 543,564 547,565"/>
<polyline points="454.5,522.5 453.5,530 452.5,540 456,545 462,548 467,551 470,556 476,557 477,563 480,569 483,570.5"/>
<polyline points="360,574 354,576 350,580 348.5,585 347.5,592 346,599 338,600.5 332,603 328,607 325,609.5 322.5,606 321,600 316,600.5 312,602.5 305,606 296,610 285,618"/>
<polyline points="388,638.5 391,635 392,630 397,627 395,622 396.5,618 394,615 386,614 383,615 383,611 389,605 387,602 381,600 383,598 387.5,597 388,592.5"/>
<polyline points="338,455 337.5,461 340,468 343,470 348,467 356,466 362,467 364,460"/>
<polyline points="362,467 361,473 359,479 363,484 370,488 374,491 380,494 385,496 389.5,497"/>
<polyline points="340,468 342,473 340,478 338,480 333,481 328,479 323,480 320,484 315,485.5"/>
<polyline points="333,481 337,487 338,494 339,499 337,507 329,508 326,506"/>
<polyline points="339,499 345,497 352,494 358,492 360,498 362,502 368,505 369,515 368,525 369,533"/>
<polyline points="358,492 359,485 359,479"/>
<polyline points="347,538.5 354,539 360,536 365,534 369,533 372,530 377,529 384,530 388,530"/>
<polyline points="369,533 371,538 376,541 382,542 388,542"/>
<polyline points="354,551 360,550 368,552 374,556 380,560 390,564"/>
<polyline points="280,441 282,446 280.5,451 278.5,454 279,459 277,463 274.2,466.8"/>
<polyline points="296,446 297.5,452 299,458 301,464 305,469 310,470"/>
<polyline points="264,503 270,498 276,494 282,495 283.5,490 290,488 295,485 300,486.5 305,487.5 309,485 313,482.5"/>
</g>
<line x1="229" y1="483" x2="242" y2="493" stroke="#fff" stroke-width="1.6"/>
<polyline points="280,441 282,446 280.5,451 278.5,454 279,459 277,463 274.2,466.8" fill="none" stroke="#fff" stroke-width="2.2" stroke-linejoin="round" stroke-linecap="round"/>
<polyline points="360,574 354,576 350,580 348.5,585 347.5,592 346,599 338,600.5 332,603 328,607 325,609.5 322.5,606 321,600 316,600.5 312,602.5 305,606 296,610 285,618" fill="none" stroke="#fff" stroke-width="2" stroke-linejoin="round" opacity=".9"/>
<g class="ml">
<text transform="translate(355.5,197.1) scale(1.083,1)">연천</text>
<text transform="translate(423,254.6) scale(1.083,1)">포천</text>
<text transform="translate(372.75,276.85) scale(1.083,1)">동두천</text>
<text transform="translate(289.75,309.6) scale(1.083,1)">파주</text>
<text transform="translate(350.5,309.6) scale(1.083,1)">양주</text>
<text transform="translate(479.75,311.45) scale(1.083,1)">가평</text>
<text transform="translate(368.95,344.35) scale(1.083,1)">의정부</text>
<text transform="translate(227.75,358.35) scale(1.083,1)">김포</text>
<text transform="translate(292.25,371.1) scale(1.083,1)">고양</text>
<text transform="translate(427.35,371.3) scale(1.083,1)">남양주</text>
<text transform="translate(389.2,396.7) scale(1.083,1)">구리</text>
<text transform="translate(246.25,418.85) scale(1.083,1)">인천</text>
<text transform="translate(345.65,422.75) scale(1.083,1)">서울</text>
<text transform="translate(282.25,438.85) scale(1.083,1)">부천</text>
<text transform="translate(527.65,438.25) scale(1.083,1)">양평</text>
<text transform="translate(312.4,455.85) scale(1.083,1)">광명</text>
<text transform="translate(352.5,460.85) scale(1.083,1)">과천</text>
<text transform="translate(284,477.1) scale(1.083,1)">시흥</text>
<text transform="translate(326.4,477.7) scale(1.083,1)">안양</text>
<text transform="translate(383.5,477.35) scale(1.083,1)">성남</text>
<text transform="translate(350.75,490.35) scale(1.083,1)">의왕</text>
<text transform="translate(323.25,499.2) scale(1.083,1)">군포</text>
<text transform="translate(295.25,506.35) scale(1.083,1)">안산</text>
<text transform="translate(454,499.85) scale(1.083,1)">광주</text>
<text transform="translate(349,522.1) scale(1.083,1)">수원</text>
<text transform="translate(379.75,512.35) scale(1.083,1)">수지</text>
<text transform="translate(378.75,527.6) scale(1.083,1)">기흥</text>
<text transform="translate(547.75,512.35) scale(1.083,1)" class="dim">여주</text>
<text transform="translate(489.25,548) scale(1.083,1)" class="dim">이천</text>
<text transform="translate(424.4,539.85) scale(1.083,1)">용인</text>
<text transform="translate(424.5,556.1) scale(1.083,1)">(처인구)</text>
<text transform="translate(306.25,559.85) scale(1.083,1)">화성</text>
<text transform="translate(379.75,554.2) scale(1.083,1)">동탄</text>
<text transform="translate(363.25,568.2) scale(1.083,1)">오산</text>
<text transform="translate(350.5,626.6) scale(1.083,1)">평택</text>
<text transform="translate(438.85,622.5) scale(1.083,1)">안성</text>
</g></svg>
<div class="tip" style="left:470px;top:203px;width:146.8px"><div class="l1"><span class="lab" style="color:#8b90a0">기타권</span><svg class="tri" width="15" height="9" viewBox="0 0 15 9"><path d="M1.6 8.4h11.8a1 1 0 0 0 .75-1.65l-5.7-5.9a1.3 1.3 0 0 0-1.9 0l-5.7 5.9A1 1 0 0 0 1.6 8.4z" fill="#d9402f"/></svg><span class="pct up">0.4<span class="one">1</span>%</span></div><div class="l2">67,49<span class="one">1</span>원/평</div></div>
<div class="tip" style="left:114.8px;top:257.5px;width:148px"><div class="l1"><span class="lab" style="color:#6cb2d8">서북권</span><svg class="tri" width="15" height="9" viewBox="0 0 15 9"><path d="M1.6 0.6h11.8a1 1 0 0 1 .75 1.65l-5.7 5.9a1.3 1.3 0 0 1-1.9 0l-5.7-5.9A1 1 0 0 1 1.6 .6z" fill="#4263d8"/></svg><span class="pct dn">2.74%</span></div><div class="l2">68,353원/평</div></div>
<div class="tip" style="left:368px;top:398px;width:133px"><div class="l1"><span class="lab" style="color:#2b2d33;-webkit-text-stroke:.45px #2b2d33">중앙권</span><span style="display:inline-block;width:9px"></span><span class="pct no">0.00%</span></div><div class="l2">6<span class="one">1</span>,57<span class="one">1</span>원/평</div></div>
<div class="tip" style="left:105px;top:417.4px;width:148.8px"><div class="l1"><span class="lab" style="color:#4263d8">서부권</span><svg class="tri" width="15" height="9" viewBox="0 0 15 9"><path d="M1.6 8.4h11.8a1 1 0 0 0 .75-1.65l-5.7-5.9a1.3 1.3 0 0 0-1.9 0l-5.7 5.9A1 1 0 0 0 1.6 8.4z" fill="#d9402f"/></svg><span class="pct up">0.72%</span></div><div class="l2">66,928원/평</div></div>
<div class="tip" style="left:476px;top:496.2px;width:150.3px"><div class="l1"><span class="lab" style="color:#3f90a6">동남권</span><svg class="tri" width="15" height="9" viewBox="0 0 15 9"><path d="M1.6 0.6h11.8a1 1 0 0 1 .75 1.65l-5.7 5.9a1.3 1.3 0 0 1-1.9 0l-5.7-5.9A1 1 0 0 1 1.6 .6z" fill="#4263d8"/></svg><span class="pct dn">0.36%</span></div><div class="l2">56,753원/평</div></div>
<div class="tip" style="left:166.5px;top:570px;width:150.4px"><div class="l1"><span class="lab" style="color:#2a6a9c">남부권</span><svg class="tri" width="15" height="9" viewBox="0 0 15 9"><path d="M1.6 0.6h11.8a1 1 0 0 1 .75 1.65l-5.7 5.9a1.3 1.3 0 0 1-1.9 0l-5.7-5.9A1 1 0 0 1 1.6 .6z" fill="#4263d8"/></svg><span class="pct dn">0.33%</span></div><div class="l2">57,<span class="one">1</span>49원/평</div></div>
</div>
<div class="frame" style="left:6px;top:700px;width:737px;height:690px"></div>
<div class="pc" style="transform:translate(-6px,690.77px) scale(1,1.00184)">
<div class="title"><span class="en">2025-Q4</span> 상온 공실률</div><div class="sub">전분기대비 변동률</div>
<svg class="map" width="740" height="690" viewBox="0 0 740 690"><polygon points="294.5,253.5 292,250 288,244 286,237.5 288.5,232 291.5,225 292,219.5 296,222 301.5,224 306,221 311,216 315,211.5 313,208 306,203 304,199 306,194 310,188.5 306.5,182 300,176 293.5,170 293.5,166 298,163.5 307,164 312,162 314,157.5 321,158 328,153 334.5,147 336,144 345,141.5 355,139 360,136 365,131 367,125 370.5,122.5 374,124 377,128 379.5,134 382,141 385,146 388.5,147.5 393,145.5 396.5,144.5 397.5,149 400,155 401.5,161 404,166 406,173 411,179 417,183.5 420,180 425,176 429,171.5 432.5,168.5 437,168.5 439,170.5 436.5,176 434.5,182 434,186.5 437,191.5 441.5,193.5 444.5,193 446,197 449.5,200.5 453,201 460,197.5 467,194 472,194 476,197.5 482,194 484,198 484.5,203 485.5,210 489,226 494,234 505,237 515,238 521,242 533,255 538,265 539,270 537,278 535.5,285 529,285.5 524,291 517,296 512,301 511.5,306 514,310 510.5,315 510.5,319 514.5,324 517,328 516,333 511,337 506.5,341.5 507,346 509.5,347.5 513,345 517,347 522,344 521,352 519.5,360 519,368 516.5,373 516.5,376 520,380 523.5,382 529,380.5 533,377 537.5,374.5 542,377 550,382 558,388 564,392 567,397.5 575,398 585,399 592,400.5 598,400.5 600,405 605,408.5 612,411.2 611,413.5 607,415.5 602,416.5 598,420 593,425 588,429 585,432 585.5,434.5 590,437 594,441 597,444 597,450 598.5,457 596,463 593,471 591,477 590,481.5 585.5,483 580,481.5 576,480 572,481 568.5,480 569,475 571,469.5 568.5,466.5 564,471 562,467 555,464 551,468 547,465 543,466 536,461.5 530,463 526,464.5 523,465 518,466 515,463 512,459 505,455 490,452 475,448 460,440 440,437 420,434 409,436 404,431 399,432 398.5,439 392,443 387,447 380,450 375,456 368,460 365,459 364,454 358,450 353,448.5 349,447 344,449 340,451.5 338,455 334,457 330,456.5 326.5,454 324,455 319,452 314,448 311,443 310,438 308,436.5 303,440 299,443 296,444 293,440 292,434 292.5,427 293,420 291,417 286,419 283,416.5 277,415 277.5,413 280,409 283,403 285.5,399 286.5,391 295,397 304,402.5 309,401 310,397.5 315,395.5 317,390 319,385 320,379 321,376 327,373 332,370.5 336,374 340,377 342,379.5 344,374 346,368 348,362 350,356 352,350 353,345 351,338 349.5,332 353,329.5 360,329 367,330 371,329 376,326 382.5,323.5 383.5,321 384.5,316 385.5,310 385.5,305 384.5,298 382.5,293 379,289.5 375,288.5 369,288 365,286 363,283 361,279 356,277 352.5,272 352.5,266.5 349,264 345,261.5 341,260 342,257 345,252 348,248 352,245 353.5,240.5 347,237 343,236.2 339,237.5 335,241 331,243.5 326,243.5 321,241 317,238.5 315,240 314.5,248 312,249.5 308,247 305,244 301.5,242 298.5,244 296.5,248" fill="#e5e5e5" stroke="#e5e5e5" stroke-width="0.6" stroke-linejoin="round"/>
<polygon points="294.5,253.5 295.5,260 295,264 293.3,272 291.3,277.7 288.1,280 285,279.3 281,274.5 277,268 275.3,260 275,250.4 273,247 269.7,250.4 269,256 267.3,259.2 263.3,261.2 256,260.5 249,259.5 247.3,262 247,276 255,281 264,286.5 273,292 264,296 255,299.5 247,302.5 245.7,312 244,323 242,324 238,323.5 232,325.5 227,328 221,331 216,332 210.4,330.5 205,327.3 201.6,329 204,334 203,340 202.5,346 205.5,352 206,358 204.5,363 207,369 207,373 210,380 212.5,388 215,394 218,396.5 223,392 230,389 234,385 235,381 240,377 242.5,376 248,379 254,383 258,388 262,393.5 267,395 270,396.5 273,400 278,398.5 285.5,399 286.5,391 295,397 304,402.5 309,401 310,397.5 315,395.5 317,390 319,385 320,379 321,376 327,373 332,370.5 336,374 340,377 342,379.5 344,374 346,368 348,362 350,356 352,350 353,345 351,338 349.5,332 353,329.5 360,329 367,330 371,329 376,326 382.5,323.5 383.5,321 384.5,316 385.5,310 385.5,305 384.5,298 382.5,293 379,289.5 375,288.5 369,288 365,286 363,283 361,279 356,277 352.5,272 352.5,266.5 349,264 345,261.5 341,260 342,257 345,252 348,248 352,245 353.5,240.5 347,237 343,236.2 339,237.5 335,241 331,243.5 326,243.5 321,241 317,238.5 315,240 314.5,248 312,249.5 308,247 305,244 301.5,242 298.5,244 296.5,248" fill="#e4d5f2" stroke="#e4d5f2" stroke-width="0.6" stroke-linejoin="round"/>
<polygon points="296,444 293,440 292,434 292.5,427 293,420 291,417 286,419 283,416.5 277,415 276,420 275,428 272,432 270,437 276,438 280,441 285,445 290,447.5 294,447" fill="#e4d5f2" stroke="#e4d5f2" stroke-width="0.6" stroke-linejoin="round"/>
<polygon points="218,396.5 220,401 221,405 225,409 224,414 223,425 226,440 224,455 228,470 228,482 226,488 220,489 220,491 228,492 232,494 242,494.5 243,490.5 247,485.5 252,480.5 258,477.5 264,474.5 270,470 273.5,466 274.8,467.5 271.5,474 266.5,479.5 262,485 259,490 256,494.5 259,499 264,503 268,506 275,508.5 280,508 285,510 294,509 297,514 301,518 306,520.5 310,518 316,514 320,513.5 325,511.5 327.5,510 326,506 320,502 315,501 310,500 314,492 315,485.5 313,482 312,475 310,468 316,464 317,459 325,455 326.5,454 324,455 319,452 314,448 311,443 310,438 308,436.5 303,440 299,443 296,444 294,447 290,447.5 285,445 280,441 276,438 270,437 272,432 275,428 276,420 277,415 277.5,413 280,409 283,403 285.5,399 278,398.5 273,400 270,396.5 267,395 262,393.5 258,388 254,383 248,379 242.5,376 240,377 235,381 234,385 230,389 223,392" fill="#fad9c0" stroke="#fad9c0" stroke-width="0.6" stroke-linejoin="round"/>
<polygon points="211,417 196,420 188,426 170,430 150,435 147,445 155,450 163,458 162,470 165,478 163,485 170,485 176,481 190,480 205,478 214,472 219,462 221,450 218,440 220,428 217,420" fill="#fad9c0" stroke="#fad9c0" stroke-width="0.6" stroke-linejoin="round"/>
<polygon points="326.5,454 330,456.5 334,457 338,455 340,451.5 344,449 349,447 353,448.5 358,450 364,454 365,459 368,460 375,456 380,450 387,447 392,443 398.5,439 399,432 404,431 409,436 409,461.5 403,469 401,474 403.5,477 398,482 395,487 391,490 391.5,495 389.5,497 390,506 389,516 389.5,524 388,530 387,536 388,542 396,543 397.5,550 398.5,557 396,561 390,564 389,569 386.5,572 380,574 376,575 370,576 363,578 360,574 358,569 359,565 352,561 349,558 352,553.5 354.5,550 354,545 352,540 347,538.5 341,538 337,534 333,529 327.5,523 327,517 327.5,510 326,506 320,502 315,501 310,500 314,492 315,485.5 313,482 312,475 310,468 316,464 317,459 325,455" fill="#fbdde1" stroke="#fbdde1" stroke-width="0.6" stroke-linejoin="round"/>
<polygon points="409,436 420,434 440,437 460,440 475,448 490,452 505,455 512,459 515,463 518,466 523,465 526,464.5 530,463 536,461.5 543,466 547,465 551,468 555,464 562,467 564,471 568.5,466.5 571,469.5 569,475 568.5,480 572,481 576,480 580,481.5 585.5,483 585,495 586,505 587.5,515 586,525 584.5,535 580,545 575,552 570,559 568.5,565 565.5,569 564,572.5 558,571.5 554,569 550,566 546.5,565.5 546.5,570 546.5,580 546,588 541,591 536,593.5 537,597.5 531,599.5 526,603 524,608.5 519,607 513,605 508,606 504.5,606.5 506,604 509,600 511,595 510,587 507,583 505,578.5 498,576.5 492,574.5 489,570 484.5,569.5 482,574 479.5,580 482,584 481,589 479,592 474,591.5 471,586.5 464,585 459,587 451,581.5 445.5,586 440,579 436,573 433.5,567.5 432,566.5 430,569 429,574 426,580 420,582 415,585 410,589 407,593.5 398,593 388,592.5 386,587 384,582 382.5,579 386,576 386.5,572 389,569 390,564 396,561 398.5,557 397.5,550 396,543 388,542 387,536 388,530 389.5,524 389,516 390,506 389.5,497 391.5,495 391,490 395,487 398,482 403.5,477 401,474 403,469 409,461.5" fill="#cfe3ec" stroke="#cfe3ec" stroke-width="0.6" stroke-linejoin="round"/>
<polygon points="327.5,510 325,511.5 320,513.5 316,514 310,518 306,520.5 303,523 298,525 295,524 290,520 289,524 285,525 283,533 280,533.5 270,531 260,528.5 253,527 249,531 246,535 247,540 247,547 246,552 243.5,556 242.5,559 244,564 248,566 252,565 254,569 260,571 267,569 270,565 273,562.5 280,561.5 283.5,564 283,568 279,573 277,578 275,590 274,605 280,610 283,618 285,625 290,629 300,634 302,636 304,642 310,648 318,654 322,659.5 327,656.5 334,654.5 342,651 350,652 358,653 366,650.5 375,648 380,649 378,643 383,640 388,638.5 395,640 403,642.5 410,645 415,651 420,655 428,659 434,662 436,664 439.5,667.3 442.5,661 442,656 448,652 455,649 460,646 465,646 469,643 473,639 470,635 469.5,632 473,628 480,626 487,623 491.5,618 492,614 494,610 498,607 504.5,606.5 506,604 509,600 511,595 510,587 507,583 505,578.5 498,576.5 492,574.5 489,570 484.5,569.5 482,574 479.5,580 482,584 481,589 479,592 474,591.5 471,586.5 464,585 459,587 451,581.5 445.5,586 440,579 436,573 433.5,567.5 432,566.5 430,569 429,574 426,580 420,582 415,585 410,589 407,593.5 398,593 388,592.5 386,587 384,582 382.5,579 386,576 386.5,572 380,574 376,575 370,576 363,578 360,574 358,569 359,565 352,561 349,558 352,553.5 354.5,550 354,545 352,540 347,538.5 341,538 337,534 333,529 327.5,523 327,517" fill="#d3ebd8" stroke="#d3ebd8" stroke-width="0.6" stroke-linejoin="round"/>
<polygon points="208.1,518.1 210.9,519.5 213.2,520 214.1,521.8 218.4,522.8 220.4,524.8 222.4,526.8 228,526.9 228.8,529.1 228.3,531.1 230.1,534.3 229.3,536.3 226.3,537 223,536.3 220.4,535.5 219.1,536.3 220.4,538 223.7,539.9 226.3,541.9 227.8,544.5 226.3,544.2 224.3,541.3 222.7,541.6 221.4,542.9 219.4,541.3 217.4,541.3 216.1,542.9 215.1,546.2 213.8,548.5 212.5,550.1 210.5,548.5 207.2,547.5 208.2,545.2 210.9,544.9 211.2,542.2 209.5,540.3 207.1,539.6 207.4,538.1 209.9,537.3 214.5,536.3 215.5,535 213.8,533 212.8,531.1 213.7,528.4 212.2,524.8 210.2,520.9" fill="#d3ebd8" stroke="#d3ebd8" stroke-width="0.6" stroke-linejoin="round"/>
<g fill="none" stroke="#fff" stroke-width="1.4" stroke-linejoin="round" stroke-linecap="round" opacity="0.95">
<polyline points="585.5,483 580,481.5 576,480 572,481 568.5,480 569,475 571,469.5 568.5,466.5 564,471 562,467 555,464 551,468 547,465 543,466 536,461.5 530,463 526,464.5 523,465 518,466 515,463 512,459 505,455 490,452 475,448 460,440 440,437 420,434 409,436"/>
<polyline points="409,436 404,431 399,432 398.5,439 392,443 387,447 380,450 375,456 368,460 365,459 364,454 358,450 353,448.5 349,447 344,449 340,451.5 338,455 334,457 330,456.5 326.5,454"/>
<polyline points="326.5,454 324,455 319,452 314,448 311,443 310,438 308,436.5 303,440 299,443 296,444"/>
<polyline points="296,444 293,440 292,434 292.5,427 293,420 291,417 286,419 283,416.5 277,415"/>
<polyline points="296,444 294,447 290,447.5 285,445 280,441 276,438 270,437 272,432 275,428 276,420 277,415"/>
<polyline points="277,415 277.5,413 280,409 283,403 285.5,399"/>
<polyline points="285.5,399 286.5,391 295,397 304,402.5 309,401 310,397.5 315,395.5 317,390 319,385 320,379 321,376 327,373 332,370.5 336,374 340,377 342,379.5 344,374 346,368 348,362 350,356 352,350 353,345 351,338 349.5,332 353,329.5 360,329 367,330 371,329 376,326 382.5,323.5 383.5,321 384.5,316 385.5,310 385.5,305 384.5,298 382.5,293 379,289.5 375,288.5 369,288 365,286 363,283 361,279 356,277 352.5,272 352.5,266.5 349,264 345,261.5 341,260 342,257 345,252 348,248 352,245 353.5,240.5 347,237 343,236.2 339,237.5 335,241 331,243.5 326,243.5 321,241 317,238.5 315,240 314.5,248 312,249.5 308,247 305,244 301.5,242 298.5,244 296.5,248 294.5,253.5"/>
<polyline points="218,396.5 223,392 230,389 234,385 235,381 240,377 242.5,376 248,379 254,383 258,388 262,393.5 267,395 270,396.5 273,400 278,398.5 285.5,399"/>
<polyline points="327.5,510 326,506 320,502 315,501 310,500 314,492 315,485.5 313,482 312,475 310,468 316,464 317,459 325,455 326.5,454"/>
<polyline points="409,436 409,461.5 403,469 401,474 403.5,477 398,482 395,487 391,490 391.5,495 389.5,497 390,506 389,516 389.5,524 388,530 387,536 388,542 396,543 397.5,550 398.5,557 396,561 390,564 389,569 386.5,572"/>
<polyline points="386.5,572 380,574 376,575 370,576 363,578 360,574 358,569 359,565 352,561 349,558 352,553.5 354.5,550 354,545 352,540 347,538.5 341,538 337,534 333,529 327.5,523 327,517 327.5,510"/>
<polyline points="504.5,606.5 506,604 509,600 511,595 510,587 507,583 505,578.5 498,576.5 492,574.5 489,570 484.5,569.5 482,574 479.5,580 482,584 481,589 479,592 474,591.5 471,586.5 464,585 459,587 451,581.5 445.5,586 440,579 436,573 433.5,567.5 432,566.5 430,569 429,574 426,580 420,582 415,585 410,589 407,593.5 398,593 388,592.5"/>
<polyline points="388,592.5 386,587 384,582 382.5,579 386,576 386.5,572"/>
<polyline points="327.5,510 325,511.5 320,513.5 316,514 310,518 306,520.5"/>
<polyline points="404.6,166.5 403.8,178 406,190 407,200 408,205 407,210 400,212.5 394.5,213.5 393,210 389,213 384.5,216.5 385.5,221.5 391,223 392.5,230 393.5,237 389,241 383,242.5 378,243"/>
<polyline points="352.5,266.5 356,260 360,254 364,247 366,244 370,245 377,247.5 378,243"/>
<polyline points="377,247.5 378.5,254 381,260 386,265 392,270 395.5,276 396,281 393,285 389,288 387.5,292 387,297 384.5,298"/>
<polyline points="341,260 339,261 337.5,266 334,269 333,275 331.5,283 330,290 329,298 324,300 321,302 319,306 320.5,310 320,314 319,317 324,320 329,321 328,328 326.5,334 326,336.5"/>
<polyline points="247.5,355.5 254,358 260,354.5 268,352 275,352 280,348 284,344 286,340 289,343.5 295,344 300,342 304,341 310,343 317,344 319,338 326,336.5"/>
<polyline points="326,336.5 325,344 324,352 322,360 320,366 324,366 330,361 334,359 340,360 346,363"/>
<polyline points="244,323 246.5,332 249.7,341.8 250.5,346 249.5,350 247.5,355 247,360 260,370 270,378 280,386 286.5,391"/>
<polyline points="353,350 360,354 370,352 378,358 384,348 392,334 388,328 382.5,323.5"/>
<polyline points="384,324 392,330 400,333 408,329 420,328.5 430,324 432,323"/>
<polyline points="432,323 434,312 436,300 438,289 440,288 444,289.5 448,287 450,275 452,267 458,267 465,260 467,252 468,244 473,239 478,231 480.5,224 483,217 485.5,210"/>
<polyline points="432,323 444,326 452,334 457,346 462,356 467,366 466,374"/>
<polyline points="466,374 474,370 480,366.5 482.5,366 486,369 485.5,373 489,376 492,381 495,384 496,390 495.5,398 510,398.5 523.5,398 523.5,392 526,388 523.5,382"/>
<polyline points="466,374 460,380 457,390 455,398 452,410 450,425 452,437"/>
<polyline points="378,358 380,362 382,370 384,379 395,379 396,388 392,396 386,400"/>
<polyline points="386,400 392,410 400,420 404,431"/>
<polyline points="391,494.5 400,493 409,492 412,498 416,493 418,488 423,488 430,491 436.5,493 436,504 435.5,514 436,520 440,522 444,523 450,521.5 454.5,522.5"/>
<polyline points="454.5,522.5 457,518 455.5,514.5 460,510 463,504 470,501 476,497 482,493 487.5,488 488.5,480 486,475 480,473 476,467 473,463 470,456 466,450 460,440"/>
<polyline points="487.5,488 492,489 496,486.5 502,492 509,495 514,500 515,510 517,525 514,540 512,555 530,553 540,559 543,564 547,565"/>
<polyline points="454.5,522.5 453.5,530 452.5,540 456,545 462,548 467,551 470,556 476,557 477,563 480,569 483,570.5"/>
<polyline points="360,574 354,576 350,580 348.5,585 347.5,592 346,599 338,600.5 332,603 328,607 325,609.5 322.5,606 321,600 316,600.5 312,602.5 305,606 296,610 285,618"/>
<polyline points="388,638.5 391,635 392,630 397,627 395,622 396.5,618 394,615 386,614 383,615 383,611 389,605 387,602 381,600 383,598 387.5,597 388,592.5"/>
<polyline points="338,455 337.5,461 340,468 343,470 348,467 356,466 362,467 364,460"/>
<polyline points="362,467 361,473 359,479 363,484 370,488 374,491 380,494 385,496 389.5,497"/>
<polyline points="340,468 342,473 340,478 338,480 333,481 328,479 323,480 320,484 315,485.5"/>
<polyline points="333,481 337,487 338,494 339,499 337,507 329,508 326,506"/>
<polyline points="339,499 345,497 352,494 358,492 360,498 362,502 368,505 369,515 368,525 369,533"/>
<polyline points="358,492 359,485 359,479"/>
<polyline points="347,538.5 354,539 360,536 365,534 369,533 372,530 377,529 384,530 388,530"/>
<polyline points="369,533 371,538 376,541 382,542 388,542"/>
<polyline points="354,551 360,550 368,552 374,556 380,560 390,564"/>
<polyline points="280,441 282,446 280.5,451 278.5,454 279,459 277,463 274.2,466.8"/>
<polyline points="296,446 297.5,452 299,458 301,464 305,469 310,470"/>
<polyline points="264,503 270,498 276,494 282,495 283.5,490 290,488 295,485 300,486.5 305,487.5 309,485 313,482.5"/>
</g>
<line x1="229" y1="483" x2="242" y2="493" stroke="#fff" stroke-width="1.6"/>
<polyline points="280,441 282,446 280.5,451 278.5,454 279,459 277,463 274.2,466.8" fill="none" stroke="#fff" stroke-width="2.2" stroke-linejoin="round" stroke-linecap="round"/>
<polyline points="360,574 354,576 350,580 348.5,585 347.5,592 346,599 338,600.5 332,603 328,607 325,609.5 322.5,606 321,600 316,600.5 312,602.5 305,606 296,610 285,618" fill="none" stroke="#fff" stroke-width="2" stroke-linejoin="round" opacity=".9"/>
<g class="ml">
<text transform="translate(355.5,197.1) scale(1.083,1)">연천</text>
<text transform="translate(423,254.6) scale(1.083,1)">포천</text>
<text transform="translate(372.75,276.85) scale(1.083,1)">동두천</text>
<text transform="translate(289.75,309.6) scale(1.083,1)">파주</text>
<text transform="translate(350.5,309.6) scale(1.083,1)">양주</text>
<text transform="translate(479.75,311.45) scale(1.083,1)">가평</text>
<text transform="translate(368.95,344.35) scale(1.083,1)">의정부</text>
<text transform="translate(227.75,358.35) scale(1.083,1)">김포</text>
<text transform="translate(292.25,371.1) scale(1.083,1)">고양</text>
<text transform="translate(427.35,371.3) scale(1.083,1)">남양주</text>
<text transform="translate(389.2,396.7) scale(1.083,1)">구리</text>
<text transform="translate(246.25,418.85) scale(1.083,1)">인천</text>
<text transform="translate(345.65,422.75) scale(1.083,1)">서울</text>
<text transform="translate(282.25,438.85) scale(1.083,1)">부천</text>
<text transform="translate(527.65,438.25) scale(1.083,1)">양평</text>
<text transform="translate(312.4,455.85) scale(1.083,1)">광명</text>
<text transform="translate(352.5,460.85) scale(1.083,1)">과천</text>
<text transform="translate(284,477.1) scale(1.083,1)">시흥</text>
<text transform="translate(326.4,477.7) scale(1.083,1)">안양</text>
<text transform="translate(383.5,477.35) scale(1.083,1)">성남</text>
<text transform="translate(350.75,490.35) scale(1.083,1)">의왕</text>
<text transform="translate(323.25,499.2) scale(1.083,1)">군포</text>
<text transform="translate(295.25,506.35) scale(1.083,1)">안산</text>
<text transform="translate(454,499.85) scale(1.083,1)">광주</text>
<text transform="translate(349,522.1) scale(1.083,1)">수원</text>
<text transform="translate(379.75,512.35) scale(1.083,1)">수지</text>
<text transform="translate(378.75,527.6) scale(1.083,1)">기흥</text>
<text transform="translate(547.75,512.35) scale(1.083,1)" class="dim">여주</text>
<text transform="translate(489.25,548) scale(1.083,1)" class="dim">이천</text>
<text transform="translate(424.4,539.85) scale(1.083,1)">용인</text>
<text transform="translate(424.5,556.1) scale(1.083,1)">(처인구)</text>
<text transform="translate(306.25,559.85) scale(1.083,1)">화성</text>
<text transform="translate(379.75,554.2) scale(1.083,1)">동탄</text>
<text transform="translate(363.25,568.2) scale(1.083,1)">오산</text>
<text transform="translate(350.5,626.6) scale(1.083,1)">평택</text>
<text transform="translate(438.85,622.5) scale(1.083,1)">안성</text>
</g></svg>
<div class="tip" style="left:470px;top:203px;width:155.7px"><div class="l1"><span class="lab" style="color:#8b90a0">기타권</span><svg class="tri" width="15" height="9" viewBox="0 0 15 9"><path d="M1.6 0.6h11.8a1 1 0 0 1 .75 1.65l-5.7 5.9a1.3 1.3 0 0 1-1.9 0l-5.7-5.9A1 1 0 0 1 1.6 .6z" fill="#4263d8"/></svg><span class="pct dn"><span class="one">1</span>.57%p</span></div><div class="l2">26.67%</div></div>
<div class="tip" style="left:114.8px;top:257.5px;width:159.9px"><div class="l1"><span class="lab" style="color:#6cb2d8">서북권</span><svg class="tri" width="15" height="9" viewBox="0 0 15 9"><path d="M1.6 0.6h11.8a1 1 0 0 1 .75 1.65l-5.7 5.9a1.3 1.3 0 0 1-1.9 0l-5.7-5.9A1 1 0 0 1 1.6 .6z" fill="#4263d8"/></svg><span class="pct dn">3.08%p</span></div><div class="l2">26.98%</div></div>
<div class="tip" style="left:368px;top:398px;width:159px"><div class="l1"><span class="lab" style="color:#2b2d33;-webkit-text-stroke:.45px #2b2d33">중앙권</span><svg class="tri" width="15" height="9" viewBox="0 0 15 9"><path d="M1.6 8.4h11.8a1 1 0 0 0 .75-1.65l-5.7-5.9a1.3 1.3 0 0 0-1.9 0l-5.7 5.9A1 1 0 0 0 1.6 8.4z" fill="#d9402f"/></svg><span class="pct up">0.73%p</span></div><div class="l2">4.7<span class="one">1</span>%</div></div>
<div class="tip" style="left:105px;top:417.4px;width:156.8px"><div class="l1"><span class="lab" style="color:#4263d8">서부권</span><svg class="tri" width="15" height="9" viewBox="0 0 15 9"><path d="M1.6 0.6h11.8a1 1 0 0 1 .75 1.65l-5.7 5.9a1.3 1.3 0 0 1-1.9 0l-5.7-5.9A1 1 0 0 1 1.6 .6z" fill="#4263d8"/></svg><span class="pct dn"><span class="one">1</span>.36%p</span></div><div class="l2"><span class="one">1</span>6.53%</div></div>
<div class="tip" style="left:476px;top:496.2px;width:161.3px"><div class="l1"><span class="lab" style="color:#3f90a6">동남권</span><svg class="tri" width="15" height="9" viewBox="0 0 15 9"><path d="M1.6 0.6h11.8a1 1 0 0 1 .75 1.65l-5.7 5.9a1.3 1.3 0 0 1-1.9 0l-5.7-5.9A1 1 0 0 1 1.6 .6z" fill="#4263d8"/></svg><span class="pct dn">4.64%p</span></div><div class="l2">9.53%</div></div>
<div class="tip" style="left:166.5px;top:570px;width:157.8px"><div class="l1"><span class="lab" style="color:#2a6a9c">남부권</span><svg class="tri" width="15" height="9" viewBox="0 0 15 9"><path d="M1.6 0.6h11.8a1 1 0 0 1 .75 1.65l-5.7 5.9a1.3 1.3 0 0 1-1.9 0l-5.7-5.9A1 1 0 0 1 1.6 .6z" fill="#4263d8"/></svg><span class="pct dn">0.8<span class="one">1</span>%p</span></div><div class="l2"><span class="one">1</span>4.63%</div></div>
</div>
<div class="frame" style="left:753px;top:700px;width:737px;height:690px"></div>
<div class="pc" style="transform:translate(743.5px,689.36px) scale(1,1.00193)">
<div class="title"><span class="en">2025-Q4</span> 저온 공실률</div><div class="sub">전분기대비 변동률</div>
<svg class="map" width="740" height="690" viewBox="0 0 740 690"><polygon points="294.5,253.5 292,250 288,244 286,237.5 288.5,232 291.5,225 292,219.5 296,222 301.5,224 306,221 311,216 315,211.5 313,208 306,203 304,199 306,194 310,188.5 306.5,182 300,176 293.5,170 293.5,166 298,163.5 307,164 312,162 314,157.5 321,158 328,153 334.5,147 336,144 345,141.5 355,139 360,136 365,131 367,125 370.5,122.5 374,124 377,128 379.5,134 382,141 385,146 388.5,147.5 393,145.5 396.5,144.5 397.5,149 400,155 401.5,161 404,166 406,173 411,179 417,183.5 420,180 425,176 429,171.5 432.5,168.5 437,168.5 439,170.5 436.5,176 434.5,182 434,186.5 437,191.5 441.5,193.5 444.5,193 446,197 449.5,200.5 453,201 460,197.5 467,194 472,194 476,197.5 482,194 484,198 484.5,203 485.5,210 489,226 494,234 505,237 515,238 521,242 533,255 538,265 539,270 537,278 535.5,285 529,285.5 524,291 517,296 512,301 511.5,306 514,310 510.5,315 510.5,319 514.5,324 517,328 516,333 511,337 506.5,341.5 507,346 509.5,347.5 513,345 517,347 522,344 521,352 519.5,360 519,368 516.5,373 516.5,376 520,380 523.5,382 529,380.5 533,377 537.5,374.5 542,377 550,382 558,388 564,392 567,397.5 575,398 585,399 592,400.5 598,400.5 600,405 605,408.5 612,411.2 611,413.5 607,415.5 602,416.5 598,420 593,425 588,429 585,432 585.5,434.5 590,437 594,441 597,444 597,450 598.5,457 596,463 593,471 591,477 590,481.5 585.5,483 580,481.5 576,480 572,481 568.5,480 569,475 571,469.5 568.5,466.5 564,471 562,467 555,464 551,468 547,465 543,466 536,461.5 530,463 526,464.5 523,465 518,466 515,463 512,459 505,455 490,452 475,448 460,440 440,437 420,434 409,436 404,431 399,432 398.5,439 392,443 387,447 380,450 375,456 368,460 365,459 364,454 358,450 353,448.5 349,447 344,449 340,451.5 338,455 334,457 330,456.5 326.5,454 324,455 319,452 314,448 311,443 310,438 308,436.5 303,440 299,443 296,444 293,440 292,434 292.5,427 293,420 291,417 286,419 283,416.5 277,415 277.5,413 280,409 283,403 285.5,399 286.5,391 295,397 304,402.5 309,401 310,397.5 315,395.5 317,390 319,385 320,379 321,376 327,373 332,370.5 336,374 340,377 342,379.5 344,374 346,368 348,362 350,356 352,350 353,345 351,338 349.5,332 353,329.5 360,329 367,330 371,329 376,326 382.5,323.5 383.5,321 384.5,316 385.5,310 385.5,305 384.5,298 382.5,293 379,289.5 375,288.5 369,288 365,286 363,283 361,279 356,277 352.5,272 352.5,266.5 349,264 345,261.5 341,260 342,257 345,252 348,248 352,245 353.5,240.5 347,237 343,236.2 339,237.5 335,241 331,243.5 326,243.5 321,241 317,238.5 315,240 314.5,248 312,249.5 308,247 305,244 301.5,242 298.5,244 296.5,248" fill="#e5e5e5" stroke="#e5e5e5" stroke-width="0.6" stroke-linejoin="round"/>
<polygon points="294.5,253.5 295.5,260 295,264 293.3,272 291.3,277.7 288.1,280 285,279.3 281,274.5 277,268 275.3,260 275,250.4 273,247 269.7,250.4 269,256 267.3,259.2 263.3,261.2 256,260.5 249,259.5 247.3,262 247,276 255,281 264,286.5 273,292 264,296 255,299.5 247,302.5 245.7,312 244,323 242,324 238,323.5 232,325.5 227,328 221,331 216,332 210.4,330.5 205,327.3 201.6,329 204,334 203,340 202.5,346 205.5,352 206,358 204.5,363 207,369 207,373 210,380 212.5,388 215,394 218,396.5 223,392 230,389 234,385 235,381 240,377 242.5,376 248,379 254,383 258,388 262,393.5 267,395 270,396.5 273,400 278,398.5 285.5,399 286.5,391 295,397 304,402.5 309,401 310,397.5 315,395.5 317,390 319,385 320,379 321,376 327,373 332,370.5 336,374 340,377 342,379.5 344,374 346,368 348,362 350,356 352,350 353,345 351,338 349.5,332 353,329.5 360,329 367,330 371,329 376,326 382.5,323.5 383.5,321 384.5,316 385.5,310 385.5,305 384.5,298 382.5,293 379,289.5 375,288.5 369,288 365,286 363,283 361,279 356,277 352.5,272 352.5,266.5 349,264 345,261.5 341,260 342,257 345,252 348,248 352,245 353.5,240.5 347,237 343,236.2 339,237.5 335,241 331,243.5 326,243.5 321,241 317,238.5 315,240 314.5,248 312,249.5 308,247 305,244 301.5,242 298.5,244 296.5,248" fill="#e4d5f2" stroke="#e4d5f2" stroke-width="0.6" stroke-linejoin="round"/>
<polygon points="296,444 293,440 292,434 292.5,427 293,420 291,417 286,419 283,416.5 277,415 276,420 275,428 272,432 270,437 276,438 280,441 285,445 290,447.5 294,447" fill="#e4d5f2" stroke="#e4d5f2" stroke-width="0.6" stroke-linejoin="round"/>
<polygon points="218,396.5 220,401 221,405 225,409 224,414 223,425 226,440 224,455 228,470 228,482 226,488 220,489 220,491 228,492 232,494 242,494.5 243,490.5 247,485.5 252,480.5 258,477.5 264,474.5 270,470 273.5,466 274.8,467.5 271.5,474 266.5,479.5 262,485 259,490 256,494.5 259,499 264,503 268,506 275,508.5 280,508 285,510 294,509 297,514 301,518 306,520.5 310,518 316,514 320,513.5 325,511.5 327.5,510 326,506 320,502 315,501 310,500 314,492 315,485.5 313,482 312,475 310,468 316,464 317,459 325,455 326.5,454 324,455 319,452 314,448 311,443 310,438 308,436.5 303,440 299,443 296,444 294,447 290,447.5 285,445 280,441 276,438 270,437 272,432 275,428 276,420 277,415 277.5,413 280,409 283,403 285.5,399 278,398.5 273,400 270,396.5 267,395 262,393.5 258,388 254,383 248,379 242.5,376 240,377 235,381 234,385 230,389 223,392" fill="#fad9c0" stroke="#fad9c0" stroke-width="0.6" stroke-linejoin="round"/>
<polygon points="211,417 196,420 188,426 170,430 150,435 147,445 155,450 163,458 162,470 165,478 163,485 170,485 176,481 190,480 205,478 214,472 219,462 221,450 218,440 220,428 217,420" fill="#fad9c0" stroke="#fad9c0" stroke-width="0.6" stroke-linejoin="round"/>
<polygon points="326.5,454 330,456.5 334,457 338,455 340,451.5 344,449 349,447 353,448.5 358,450 364,454 365,459 368,460 375,456 380,450 387,447 392,443 398.5,439 399,432 404,431 409,436 409,461.5 403,469 401,474 403.5,477 398,482 395,487 391,490 391.5,495 389.5,497 390,506 389,516 389.5,524 388,530 387,536 388,542 396,543 397.5,550 398.5,557 396,561 390,564 389,569 386.5,572 380,574 376,575 370,576 363,578 360,574 358,569 359,565 352,561 349,558 352,553.5 354.5,550 354,545 352,540 347,538.5 341,538 337,534 333,529 327.5,523 327,517 327.5,510 326,506 320,502 315,501 310,500 314,492 315,485.5 313,482 312,475 310,468 316,464 317,459 325,455" fill="#fbdde1" stroke="#fbdde1" stroke-width="0.6" stroke-linejoin="round"/>
<polygon points="409,436 420,434 440,437 460,440 475,448 490,452 505,455 512,459 515,463 518,466 523,465 526,464.5 530,463 536,461.5 543,466 547,465 551,468 555,464 562,467 564,471 568.5,466.5 571,469.5 569,475 568.5,480 572,481 576,480 580,481.5 585.5,483 585,495 586,505 587.5,515 586,525 584.5,535 580,545 575,552 570,559 568.5,565 565.5,569 564,572.5 558,571.5 554,569 550,566 546.5,565.5 546.5,570 546.5,580 546,588 541,591 536,593.5 537,597.5 531,599.5 526,603 524,608.5 519,607 513,605 508,606 504.5,606.5 506,604 509,600 511,595 510,587 507,583 505,578.5 498,576.5 492,574.5 489,570 484.5,569.5 482,574 479.5,580 482,584 481,589 479,592 474,591.5 471,586.5 464,585 459,587 451,581.5 445.5,586 440,579 436,573 433.5,567.5 432,566.5 430,569 429,574 426,580 420,582 415,585 410,589 407,593.5 398,593 388,592.5 386,587 384,582 382.5,579 386,576 386.5,572 389,569 390,564 396,561 398.5,557 397.5,550 396,543 388,542 387,536 388,530 389.5,524 389,516 390,506 389.5,497 391.5,495 391,490 395,487 398,482 403.5,477 401,474 403,469 409,461.5" fill="#cfe3ec" stroke="#cfe3ec" stroke-width="0.6" stroke-linejoin="round"/>
<polygon points="327.5,510 325,511.5 320,513.5 316,514 310,518 306,520.5 303,523 298,525 295,524 290,520 289,524 285,525 283,533 280,533.5 270,531 260,528.5 253,527 249,531 246,535 247,540 247,547 246,552 243.5,556 242.5,559 244,564 248,566 252,565 254,569 260,571 267,569 270,565 273,562.5 280,561.5 283.5,564 283,568 279,573 277,578 275,590 274,605 280,610 283,618 285,625 290,629 300,634 302,636 304,642 310,648 318,654 322,659.5 327,656.5 334,654.5 342,651 350,652 358,653 366,650.5 375,648 380,649 378,643 383,640 388,638.5 395,640 403,642.5 410,645 415,651 420,655 428,659 434,662 436,664 439.5,667.3 442.5,661 442,656 448,652 455,649 460,646 465,646 469,643 473,639 470,635 469.5,632 473,628 480,626 487,623 491.5,618 492,614 494,610 498,607 504.5,606.5 506,604 509,600 511,595 510,587 507,583 505,578.5 498,576.5 492,574.5 489,570 484.5,569.5 482,574 479.5,580 482,584 481,589 479,592 474,591.5 471,586.5 464,585 459,587 451,581.5 445.5,586 440,579 436,573 433.5,567.5 432,566.5 430,569 429,574 426,580 420,582 415,585 410,589 407,593.5 398,593 388,592.5 386,587 384,582 382.5,579 386,576 386.5,572 380,574 376,575 370,576 363,578 360,574 358,569 359,565 352,561 349,558 352,553.5 354.5,550 354,545 352,540 347,538.5 341,538 337,534 333,529 327.5,523 327,517" fill="#d3ebd8" stroke="#d3ebd8" stroke-width="0.6" stroke-linejoin="round"/>
<polygon points="208.1,518.1 210.9,519.5 213.2,520 214.1,521.8 218.4,522.8 220.4,524.8 222.4,526.8 228,526.9 228.8,529.1 228.3,531.1 230.1,534.3 229.3,536.3 226.3,537 223,536.3 220.4,535.5 219.1,536.3 220.4,538 223.7,539.9 226.3,541.9 227.8,544.5 226.3,544.2 224.3,541.3 222.7,541.6 221.4,542.9 219.4,541.3 217.4,541.3 216.1,542.9 215.1,546.2 213.8,548.5 212.5,550.1 210.5,548.5 207.2,547.5 208.2,545.2 210.9,544.9 211.2,542.2 209.5,540.3 207.1,539.6 207.4,538.1 209.9,537.3 214.5,536.3 215.5,535 213.8,533 212.8,531.1 213.7,528.4 212.2,524.8 210.2,520.9" fill="#d3ebd8" stroke="#d3ebd8" stroke-width="0.6" stroke-linejoin="round"/>
<g fill="none" stroke="#fff" stroke-width="1.4" stroke-linejoin="round" stroke-linecap="round" opacity="0.95">
<polyline points="585.5,483 580,481.5 576,480 572,481 568.5,480 569,475 571,469.5 568.5,466.5 564,471 562,467 555,464 551,468 547,465 543,466 536,461.5 530,463 526,464.5 523,465 518,466 515,463 512,459 505,455 490,452 475,448 460,440 440,437 420,434 409,436"/>
<polyline points="409,436 404,431 399,432 398.5,439 392,443 387,447 380,450 375,456 368,460 365,459 364,454 358,450 353,448.5 349,447 344,449 340,451.5 338,455 334,457 330,456.5 326.5,454"/>
<polyline points="326.5,454 324,455 319,452 314,448 311,443 310,438 308,436.5 303,440 299,443 296,444"/>
<polyline points="296,444 293,440 292,434 292.5,427 293,420 291,417 286,419 283,416.5 277,415"/>
<polyline points="296,444 294,447 290,447.5 285,445 280,441 276,438 270,437 272,432 275,428 276,420 277,415"/>
<polyline points="277,415 277.5,413 280,409 283,403 285.5,399"/>
<polyline points="285.5,399 286.5,391 295,397 304,402.5 309,401 310,397.5 315,395.5 317,390 319,385 320,379 321,376 327,373 332,370.5 336,374 340,377 342,379.5 344,374 346,368 348,362 350,356 352,350 353,345 351,338 349.5,332 353,329.5 360,329 367,330 371,329 376,326 382.5,323.5 383.5,321 384.5,316 385.5,310 385.5,305 384.5,298 382.5,293 379,289.5 375,288.5 369,288 365,286 363,283 361,279 356,277 352.5,272 352.5,266.5 349,264 345,261.5 341,260 342,257 345,252 348,248 352,245 353.5,240.5 347,237 343,236.2 339,237.5 335,241 331,243.5 326,243.5 321,241 317,238.5 315,240 314.5,248 312,249.5 308,247 305,244 301.5,242 298.5,244 296.5,248 294.5,253.5"/>
<polyline points="218,396.5 223,392 230,389 234,385 235,381 240,377 242.5,376 248,379 254,383 258,388 262,393.5 267,395 270,396.5 273,400 278,398.5 285.5,399"/>
<polyline points="327.5,510 326,506 320,502 315,501 310,500 314,492 315,485.5 313,482 312,475 310,468 316,464 317,459 325,455 326.5,454"/>
<polyline points="409,436 409,461.5 403,469 401,474 403.5,477 398,482 395,487 391,490 391.5,495 389.5,497 390,506 389,516 389.5,524 388,530 387,536 388,542 396,543 397.5,550 398.5,557 396,561 390,564 389,569 386.5,572"/>
<polyline points="386.5,572 380,574 376,575 370,576 363,578 360,574 358,569 359,565 352,561 349,558 352,553.5 354.5,550 354,545 352,540 347,538.5 341,538 337,534 333,529 327.5,523 327,517 327.5,510"/>
<polyline points="504.5,606.5 506,604 509,600 511,595 510,587 507,583 505,578.5 498,576.5 492,574.5 489,570 484.5,569.5 482,574 479.5,580 482,584 481,589 479,592 474,591.5 471,586.5 464,585 459,587 451,581.5 445.5,586 440,579 436,573 433.5,567.5 432,566.5 430,569 429,574 426,580 420,582 415,585 410,589 407,593.5 398,593 388,592.5"/>
<polyline points="388,592.5 386,587 384,582 382.5,579 386,576 386.5,572"/>
<polyline points="327.5,510 325,511.5 320,513.5 316,514 310,518 306,520.5"/>
<polyline points="404.6,166.5 403.8,178 406,190 407,200 408,205 407,210 400,212.5 394.5,213.5 393,210 389,213 384.5,216.5 385.5,221.5 391,223 392.5,230 393.5,237 389,241 383,242.5 378,243"/>
<polyline points="352.5,266.5 356,260 360,254 364,247 366,244 370,245 377,247.5 378,243"/>
<polyline points="377,247.5 378.5,254 381,260 386,265 392,270 395.5,276 396,281 393,285 389,288 387.5,292 387,297 384.5,298"/>
<polyline points="341,260 339,261 337.5,266 334,269 333,275 331.5,283 330,290 329,298 324,300 321,302 319,306 320.5,310 320,314 319,317 324,320 329,321 328,328 326.5,334 326,336.5"/>
<polyline points="247.5,355.5 254,358 260,354.5 268,352 275,352 280,348 284,344 286,340 289,343.5 295,344 300,342 304,341 310,343 317,344 319,338 326,336.5"/>
<polyline points="326,336.5 325,344 324,352 322,360 320,366 324,366 330,361 334,359 340,360 346,363"/>
<polyline points="244,323 246.5,332 249.7,341.8 250.5,346 249.5,350 247.5,355 247,360 260,370 270,378 280,386 286.5,391"/>
<polyline points="353,350 360,354 370,352 378,358 384,348 392,334 388,328 382.5,323.5"/>
<polyline points="384,324 392,330 400,333 408,329 420,328.5 430,324 432,323"/>
<polyline points="432,323 434,312 436,300 438,289 440,288 444,289.5 448,287 450,275 452,267 458,267 465,260 467,252 468,244 473,239 478,231 480.5,224 483,217 485.5,210"/>
<polyline points="432,323 444,326 452,334 457,346 462,356 467,366 466,374"/>
<polyline points="466,374 474,370 480,366.5 482.5,366 486,369 485.5,373 489,376 492,381 495,384 496,390 495.5,398 510,398.5 523.5,398 523.5,392 526,388 523.5,382"/>
<polyline points="466,374 460,380 457,390 455,398 452,410 450,425 452,437"/>
<polyline points="378,358 380,362 382,370 384,379 395,379 396,388 392,396 386,400"/>
<polyline points="386,400 392,410 400,420 404,431"/>
<polyline points="391,494.5 400,493 409,492 412,498 416,493 418,488 423,488 430,491 436.5,493 436,504 435.5,514 436,520 440,522 444,523 450,521.5 454.5,522.5"/>
<polyline points="454.5,522.5 457,518 455.5,514.5 460,510 463,504 470,501 476,497 482,493 487.5,488 488.5,480 486,475 480,473 476,467 473,463 470,456 466,450 460,440"/>
<polyline points="487.5,488 492,489 496,486.5 502,492 509,495 514,500 515,510 517,525 514,540 512,555 530,553 540,559 543,564 547,565"/>
<polyline points="454.5,522.5 453.5,530 452.5,540 456,545 462,548 467,551 470,556 476,557 477,563 480,569 483,570.5"/>
<polyline points="360,574 354,576 350,580 348.5,585 347.5,592 346,599 338,600.5 332,603 328,607 325,609.5 322.5,606 321,600 316,600.5 312,602.5 305,606 296,610 285,618"/>
<polyline points="388,638.5 391,635 392,630 397,627 395,622 396.5,618 394,615 386,614 383,615 383,611 389,605 387,602 381,600 383,598 387.5,597 388,592.5"/>
<polyline points="338,455 337.5,461 340,468 343,470 348,467 356,466 362,467 364,460"/>
<polyline points="362,467 361,473 359,479 363,484 370,488 374,491 380,494 385,496 389.5,497"/>
<polyline points="340,468 342,473 340,478 338,480 333,481 328,479 323,480 320,484 315,485.5"/>
<polyline points="333,481 337,487 338,494 339,499 337,507 329,508 326,506"/>
<polyline points="339,499 345,497 352,494 358,492 360,498 362,502 368,505 369,515 368,525 369,533"/>
<polyline points="358,492 359,485 359,479"/>
<polyline points="347,538.5 354,539 360,536 365,534 369,533 372,530 377,529 384,530 388,530"/>
<polyline points="369,533 371,538 376,541 382,542 388,542"/>
<polyline points="354,551 360,550 368,552 374,556 380,560 390,564"/>
<polyline points="280,441 282,446 280.5,451 278.5,454 279,459 277,463 274.2,466.8"/>
<polyline points="296,446 297.5,452 299,458 301,464 305,469 310,470"/>
<polyline points="264,503 270,498 276,494 282,495 283.5,490 290,488 295,485 300,486.5 305,487.5 309,485 313,482.5"/>
</g>
<line x1="229" y1="483" x2="242" y2="493" stroke="#fff" stroke-width="1.6"/>
<polyline points="280,441 282,446 280.5,451 278.5,454 279,459 277,463 274.2,466.8" fill="none" stroke="#fff" stroke-width="2.2" stroke-linejoin="round" stroke-linecap="round"/>
<polyline points="360,574 354,576 350,580 348.5,585 347.5,592 346,599 338,600.5 332,603 328,607 325,609.5 322.5,606 321,600 316,600.5 312,602.5 305,606 296,610 285,618" fill="none" stroke="#fff" stroke-width="2" stroke-linejoin="round" opacity=".9"/>
<g class="ml">
<text transform="translate(355.5,197.1) scale(1.083,1)">연천</text>
<text transform="translate(423,254.6) scale(1.083,1)">포천</text>
<text transform="translate(372.75,276.85) scale(1.083,1)">동두천</text>
<text transform="translate(289.75,309.6) scale(1.083,1)">파주</text>
<text transform="translate(350.5,309.6) scale(1.083,1)">양주</text>
<text transform="translate(479.75,311.45) scale(1.083,1)">가평</text>
<text transform="translate(368.95,344.35) scale(1.083,1)">의정부</text>
<text transform="translate(227.75,358.35) scale(1.083,1)">김포</text>
<text transform="translate(292.25,371.1) scale(1.083,1)">고양</text>
<text transform="translate(427.35,371.3) scale(1.083,1)">남양주</text>
<text transform="translate(389.2,396.7) scale(1.083,1)">구리</text>
<text transform="translate(246.25,418.85) scale(1.083,1)">인천</text>
<text transform="translate(345.65,422.75) scale(1.083,1)">서울</text>
<text transform="translate(282.25,438.85) scale(1.083,1)">부천</text>
<text transform="translate(527.65,438.25) scale(1.083,1)">양평</text>
<text transform="translate(312.4,455.85) scale(1.083,1)">광명</text>
<text transform="translate(352.5,460.85) scale(1.083,1)">과천</text>
<text transform="translate(284,477.1) scale(1.083,1)">시흥</text>
<text transform="translate(326.4,477.7) scale(1.083,1)">안양</text>
<text transform="translate(383.5,477.35) scale(1.083,1)">성남</text>
<text transform="translate(350.75,490.35) scale(1.083,1)">의왕</text>
<text transform="translate(323.25,499.2) scale(1.083,1)">군포</text>
<text transform="translate(295.25,506.35) scale(1.083,1)">안산</text>
<text transform="translate(454,499.85) scale(1.083,1)">광주</text>
<text transform="translate(349,522.1) scale(1.083,1)">수원</text>
<text transform="translate(379.75,512.35) scale(1.083,1)">수지</text>
<text transform="translate(378.75,527.6) scale(1.083,1)">기흥</text>
<text transform="translate(547.75,512.35) scale(1.083,1)" class="dim">여주</text>
<text transform="translate(489.25,548) scale(1.083,1)" class="dim">이천</text>
<text transform="translate(424.4,539.85) scale(1.083,1)">용인</text>
<text transform="translate(424.5,556.1) scale(1.083,1)">(처인구)</text>
<text transform="translate(306.25,559.85) scale(1.083,1)">화성</text>
<text transform="translate(379.75,554.2) scale(1.083,1)">동탄</text>
<text transform="translate(363.25,568.2) scale(1.083,1)">오산</text>
<text transform="translate(350.5,626.6) scale(1.083,1)">평택</text>
<text transform="translate(438.85,622.5) scale(1.083,1)">안성</text>
</g></svg>
<div class="tip" style="left:470px;top:203px;width:169.9px"><div class="l1"><span class="lab" style="color:#8b90a0">기타권</span><svg class="tri" width="15" height="9" viewBox="0 0 15 9"><path d="M1.6 8.4h11.8a1 1 0 0 0 .75-1.65l-5.7-5.9a1.3 1.3 0 0 0-1.9 0l-5.7 5.9A1 1 0 0 0 1.6 8.4z" fill="#d9402f"/></svg><span class="pct up">20.92%p</span></div><div class="l2">6<span class="one">1</span>.35%</div></div>
<div class="tip" style="left:114.8px;top:257.5px;width:159.6px"><div class="l1"><span class="lab" style="color:#6cb2d8">서북권</span><svg class="tri" width="15" height="9" viewBox="0 0 15 9"><path d="M1.6 0.6h11.8a1 1 0 0 1 .75 1.65l-5.7 5.9a1.3 1.3 0 0 1-1.9 0l-5.7-5.9A1 1 0 0 1 1.6 .6z" fill="#4263d8"/></svg><span class="pct dn">9.69%p</span></div><div class="l2">62.<span class="one">1</span>2%</div></div>
<div class="tip" style="left:368px;top:398px;width:167.8px"><div class="l1"><span class="lab" style="color:#2b2d33;-webkit-text-stroke:.45px #2b2d33">중앙권</span><svg class="tri" width="15" height="9" viewBox="0 0 15 9"><path d="M1.6 8.4h11.8a1 1 0 0 0 .75-1.65l-5.7-5.9a1.3 1.3 0 0 0-1.9 0l-5.7 5.9A1 1 0 0 0 1.6 8.4z" fill="#d9402f"/></svg><span class="pct up"><span class="one">1</span>9.88%p</span></div><div class="l2">36.63%</div></div>
<div class="tip" style="left:105px;top:417.4px;width:159.4px"><div class="l1"><span class="lab" style="color:#4263d8">서부권</span><svg class="tri" width="15" height="9" viewBox="0 0 15 9"><path d="M1.6 0.6h11.8a1 1 0 0 1 .75 1.65l-5.7 5.9a1.3 1.3 0 0 1-1.9 0l-5.7-5.9A1 1 0 0 1 1.6 .6z" fill="#4263d8"/></svg><span class="pct dn">9.95%p</span></div><div class="l2">45.52%</div></div>
<div class="tip" style="left:476px;top:496.2px;width:160.9px"><div class="l1"><span class="lab" style="color:#3f90a6">동남권</span><svg class="tri" width="15" height="9" viewBox="0 0 15 9"><path d="M1.6 8.4h11.8a1 1 0 0 0 .75-1.65l-5.7-5.9a1.3 1.3 0 0 0-1.9 0l-5.7 5.9A1 1 0 0 0 1.6 8.4z" fill="#d9402f"/></svg><span class="pct up">0.52%p</span></div><div class="l2">25.07%</div></div>
<div class="tip" style="left:166.5px;top:570px;width:159.9px"><div class="l1"><span class="lab" style="color:#2a6a9c">남부권</span><svg class="tri" width="15" height="9" viewBox="0 0 15 9"><path d="M1.6 0.6h11.8a1 1 0 0 1 .75 1.65l-5.7 5.9a1.3 1.3 0 0 1-1.9 0l-5.7-5.9A1 1 0 0 1 1.6 .6z" fill="#4263d8"/></svg><span class="pct dn">2.50%p</span></div><div class="l2">33.90%</div></div>
</div>
</body></html>
